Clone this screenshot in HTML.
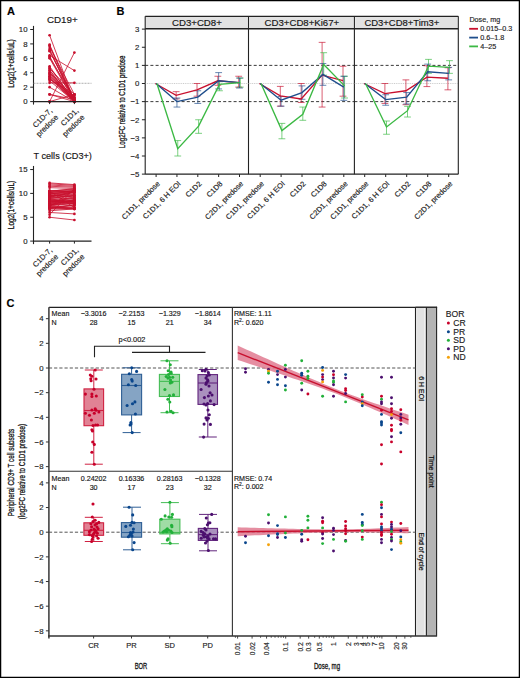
<!DOCTYPE html>
<html><head><meta charset="utf-8"><style>
html,body{margin:0;padding:0;background:#fff;}
#f{position:relative;width:520px;height:678px;overflow:hidden;background:#fff;}
svg{position:absolute;left:0;top:0;}
svg text{font-family:"Liberation Sans", sans-serif;stroke:#222;stroke-width:0.15px;}
.cn{stroke:#111;stroke-width:0.3px;}
.cs{stroke:#111;stroke-width:0.2px;}
</style></head><body><div id="f">
<svg width="520" height="678" viewBox="0 0 520 678" font-family="Liberation Sans, sans-serif">
<rect x="0" y="0" width="520" height="678" fill="#fff"/>
<text x="7.10" y="14.80" font-size="11" text-anchor="start" fill="#000" font-weight="bold" >A</text>
<text x="116.60" y="14.60" font-size="11" text-anchor="start" fill="#000" font-weight="bold" >B</text>
<text x="6.60" y="306.60" font-size="11" text-anchor="start" fill="#000" font-weight="bold" >C</text>
<text x="62.30" y="23.00" font-size="9.4" text-anchor="middle" fill="#111" font-weight="normal"  textLength="30.8" lengthAdjust="spacingAndGlyphs">CD19+</text>
<line x1="33.50" y1="25.90" x2="33.50" y2="104.60" stroke="#222" stroke-width="1.1" />
<line x1="30.20" y1="101.60" x2="33.50" y2="101.60" stroke="#222" stroke-width="1" />
<text x="27.50" y="104.35" font-size="7.8" text-anchor="end" fill="#1a1a1a" font-weight="normal" >0</text>
<line x1="30.20" y1="87.18" x2="33.50" y2="87.18" stroke="#222" stroke-width="1" />
<text x="27.50" y="89.93" font-size="7.8" text-anchor="end" fill="#1a1a1a" font-weight="normal" >2</text>
<line x1="30.20" y1="72.76" x2="33.50" y2="72.76" stroke="#222" stroke-width="1" />
<text x="27.50" y="75.51" font-size="7.8" text-anchor="end" fill="#1a1a1a" font-weight="normal" >4</text>
<line x1="30.20" y1="58.34" x2="33.50" y2="58.34" stroke="#222" stroke-width="1" />
<text x="27.50" y="61.09" font-size="7.8" text-anchor="end" fill="#1a1a1a" font-weight="normal" >6</text>
<line x1="30.20" y1="43.92" x2="33.50" y2="43.92" stroke="#222" stroke-width="1" />
<text x="27.50" y="46.67" font-size="7.8" text-anchor="end" fill="#1a1a1a" font-weight="normal" >8</text>
<line x1="30.20" y1="29.50" x2="33.50" y2="29.50" stroke="#222" stroke-width="1" />
<text x="27.50" y="32.25" font-size="7.8" text-anchor="end" fill="#1a1a1a" font-weight="normal" >10</text>
<line x1="33.50" y1="83.29" x2="91.50" y2="83.29" stroke="#9a9a9a" stroke-width="0.8" stroke-dasharray="2,1"/>
<line x1="49.60" y1="35.27" x2="74.40" y2="101.60" stroke="#c8102e" stroke-width="0.9" stroke-opacity="0.9"/>
<line x1="49.60" y1="44.64" x2="74.40" y2="100.16" stroke="#c8102e" stroke-width="0.9" stroke-opacity="0.9"/>
<line x1="49.60" y1="45.36" x2="74.40" y2="101.60" stroke="#c8102e" stroke-width="0.9" stroke-opacity="0.9"/>
<line x1="49.60" y1="46.80" x2="74.40" y2="94.39" stroke="#c8102e" stroke-width="0.9" stroke-opacity="0.9"/>
<line x1="49.60" y1="48.97" x2="74.40" y2="100.88" stroke="#c8102e" stroke-width="0.9" stroke-opacity="0.9"/>
<line x1="49.60" y1="50.41" x2="74.40" y2="101.60" stroke="#c8102e" stroke-width="0.9" stroke-opacity="0.9"/>
<line x1="49.60" y1="51.13" x2="74.40" y2="99.44" stroke="#c8102e" stroke-width="0.9" stroke-opacity="0.9"/>
<line x1="49.60" y1="55.46" x2="74.40" y2="70.60" stroke="#c8102e" stroke-width="0.9" stroke-opacity="0.9"/>
<line x1="49.60" y1="56.18" x2="74.40" y2="101.60" stroke="#c8102e" stroke-width="0.9" stroke-opacity="0.9"/>
<line x1="49.60" y1="57.62" x2="74.40" y2="97.99" stroke="#c8102e" stroke-width="0.9" stroke-opacity="0.9"/>
<line x1="49.60" y1="58.34" x2="74.40" y2="101.60" stroke="#c8102e" stroke-width="0.9" stroke-opacity="0.9"/>
<line x1="49.60" y1="66.27" x2="74.40" y2="101.60" stroke="#c8102e" stroke-width="0.9" stroke-opacity="0.9"/>
<line x1="49.60" y1="67.71" x2="74.40" y2="100.16" stroke="#c8102e" stroke-width="0.9" stroke-opacity="0.9"/>
<line x1="49.60" y1="68.43" x2="74.40" y2="94.39" stroke="#c8102e" stroke-width="0.9" stroke-opacity="0.9"/>
<line x1="49.60" y1="69.88" x2="74.40" y2="101.60" stroke="#c8102e" stroke-width="0.9" stroke-opacity="0.9"/>
<line x1="49.60" y1="70.60" x2="74.40" y2="100.88" stroke="#c8102e" stroke-width="0.9" stroke-opacity="0.9"/>
<line x1="49.60" y1="72.04" x2="74.40" y2="101.60" stroke="#c8102e" stroke-width="0.9" stroke-opacity="0.9"/>
<line x1="49.60" y1="72.76" x2="74.40" y2="97.27" stroke="#c8102e" stroke-width="0.9" stroke-opacity="0.9"/>
<line x1="49.60" y1="73.48" x2="74.40" y2="101.60" stroke="#c8102e" stroke-width="0.9" stroke-opacity="0.9"/>
<line x1="49.60" y1="74.20" x2="74.40" y2="100.16" stroke="#c8102e" stroke-width="0.9" stroke-opacity="0.9"/>
<line x1="49.60" y1="75.64" x2="74.40" y2="101.60" stroke="#c8102e" stroke-width="0.9" stroke-opacity="0.9"/>
<line x1="49.60" y1="76.36" x2="74.40" y2="98.72" stroke="#c8102e" stroke-width="0.9" stroke-opacity="0.9"/>
<line x1="49.60" y1="77.09" x2="74.40" y2="101.60" stroke="#c8102e" stroke-width="0.9" stroke-opacity="0.9"/>
<line x1="49.60" y1="77.81" x2="74.40" y2="100.88" stroke="#c8102e" stroke-width="0.9" stroke-opacity="0.9"/>
<line x1="49.60" y1="78.53" x2="74.40" y2="101.60" stroke="#c8102e" stroke-width="0.9" stroke-opacity="0.9"/>
<line x1="49.60" y1="79.25" x2="74.40" y2="95.83" stroke="#c8102e" stroke-width="0.9" stroke-opacity="0.9"/>
<line x1="49.60" y1="80.69" x2="74.40" y2="101.60" stroke="#c8102e" stroke-width="0.9" stroke-opacity="0.9"/>
<line x1="49.60" y1="82.85" x2="74.40" y2="82.85" stroke="#c8102e" stroke-width="0.9" stroke-opacity="0.9"/>
<line x1="49.60" y1="87.18" x2="74.40" y2="101.60" stroke="#c8102e" stroke-width="0.9" stroke-opacity="0.9"/>
<line x1="49.60" y1="94.39" x2="74.40" y2="101.60" stroke="#c8102e" stroke-width="0.9" stroke-opacity="0.9"/>
<line x1="49.60" y1="94.39" x2="74.40" y2="99.44" stroke="#c8102e" stroke-width="0.9" stroke-opacity="0.9"/>
<line x1="49.60" y1="101.60" x2="74.40" y2="52.57" stroke="#c8102e" stroke-width="0.9" stroke-opacity="0.9"/>
<line x1="49.60" y1="101.60" x2="74.40" y2="101.60" stroke="#c8102e" stroke-width="0.9" stroke-opacity="0.9"/>
<line x1="49.60" y1="101.60" x2="74.40" y2="94.39" stroke="#c8102e" stroke-width="0.9" stroke-opacity="0.9"/>
<circle cx="49.60" cy="35.27" r="1.35" fill="#c8102e"/>
<circle cx="74.40" cy="101.60" r="1.35" fill="#c8102e"/>
<circle cx="49.60" cy="44.64" r="1.35" fill="#c8102e"/>
<circle cx="74.40" cy="100.16" r="1.35" fill="#c8102e"/>
<circle cx="49.60" cy="45.36" r="1.35" fill="#c8102e"/>
<circle cx="74.40" cy="101.60" r="1.35" fill="#c8102e"/>
<circle cx="49.60" cy="46.80" r="1.35" fill="#c8102e"/>
<circle cx="74.40" cy="94.39" r="1.35" fill="#c8102e"/>
<circle cx="49.60" cy="48.97" r="1.35" fill="#c8102e"/>
<circle cx="74.40" cy="100.88" r="1.35" fill="#c8102e"/>
<circle cx="49.60" cy="50.41" r="1.35" fill="#c8102e"/>
<circle cx="74.40" cy="101.60" r="1.35" fill="#c8102e"/>
<circle cx="49.60" cy="51.13" r="1.35" fill="#c8102e"/>
<circle cx="74.40" cy="99.44" r="1.35" fill="#c8102e"/>
<circle cx="49.60" cy="55.46" r="1.35" fill="#c8102e"/>
<circle cx="74.40" cy="70.60" r="1.35" fill="#c8102e"/>
<circle cx="49.60" cy="56.18" r="1.35" fill="#c8102e"/>
<circle cx="74.40" cy="101.60" r="1.35" fill="#c8102e"/>
<circle cx="49.60" cy="57.62" r="1.35" fill="#c8102e"/>
<circle cx="74.40" cy="97.99" r="1.35" fill="#c8102e"/>
<circle cx="49.60" cy="58.34" r="1.35" fill="#c8102e"/>
<circle cx="74.40" cy="101.60" r="1.35" fill="#c8102e"/>
<circle cx="49.60" cy="66.27" r="1.35" fill="#c8102e"/>
<circle cx="74.40" cy="101.60" r="1.35" fill="#c8102e"/>
<circle cx="49.60" cy="67.71" r="1.35" fill="#c8102e"/>
<circle cx="74.40" cy="100.16" r="1.35" fill="#c8102e"/>
<circle cx="49.60" cy="68.43" r="1.35" fill="#c8102e"/>
<circle cx="74.40" cy="94.39" r="1.35" fill="#c8102e"/>
<circle cx="49.60" cy="69.88" r="1.35" fill="#c8102e"/>
<circle cx="74.40" cy="101.60" r="1.35" fill="#c8102e"/>
<circle cx="49.60" cy="70.60" r="1.35" fill="#c8102e"/>
<circle cx="74.40" cy="100.88" r="1.35" fill="#c8102e"/>
<circle cx="49.60" cy="72.04" r="1.35" fill="#c8102e"/>
<circle cx="74.40" cy="101.60" r="1.35" fill="#c8102e"/>
<circle cx="49.60" cy="72.76" r="1.35" fill="#c8102e"/>
<circle cx="74.40" cy="97.27" r="1.35" fill="#c8102e"/>
<circle cx="49.60" cy="73.48" r="1.35" fill="#c8102e"/>
<circle cx="74.40" cy="101.60" r="1.35" fill="#c8102e"/>
<circle cx="49.60" cy="74.20" r="1.35" fill="#c8102e"/>
<circle cx="74.40" cy="100.16" r="1.35" fill="#c8102e"/>
<circle cx="49.60" cy="75.64" r="1.35" fill="#c8102e"/>
<circle cx="74.40" cy="101.60" r="1.35" fill="#c8102e"/>
<circle cx="49.60" cy="76.36" r="1.35" fill="#c8102e"/>
<circle cx="74.40" cy="98.72" r="1.35" fill="#c8102e"/>
<circle cx="49.60" cy="77.09" r="1.35" fill="#c8102e"/>
<circle cx="74.40" cy="101.60" r="1.35" fill="#c8102e"/>
<circle cx="49.60" cy="77.81" r="1.35" fill="#c8102e"/>
<circle cx="74.40" cy="100.88" r="1.35" fill="#c8102e"/>
<circle cx="49.60" cy="78.53" r="1.35" fill="#c8102e"/>
<circle cx="74.40" cy="101.60" r="1.35" fill="#c8102e"/>
<circle cx="49.60" cy="79.25" r="1.35" fill="#c8102e"/>
<circle cx="74.40" cy="95.83" r="1.35" fill="#c8102e"/>
<circle cx="49.60" cy="80.69" r="1.35" fill="#c8102e"/>
<circle cx="74.40" cy="101.60" r="1.35" fill="#c8102e"/>
<circle cx="49.60" cy="82.85" r="1.35" fill="#c8102e"/>
<circle cx="74.40" cy="82.85" r="1.35" fill="#c8102e"/>
<circle cx="49.60" cy="87.18" r="1.35" fill="#c8102e"/>
<circle cx="74.40" cy="101.60" r="1.35" fill="#c8102e"/>
<circle cx="49.60" cy="94.39" r="1.35" fill="#c8102e"/>
<circle cx="74.40" cy="101.60" r="1.35" fill="#c8102e"/>
<circle cx="49.60" cy="94.39" r="1.35" fill="#c8102e"/>
<circle cx="74.40" cy="99.44" r="1.35" fill="#c8102e"/>
<circle cx="49.60" cy="101.60" r="1.35" fill="#c8102e"/>
<circle cx="74.40" cy="52.57" r="1.35" fill="#c8102e"/>
<circle cx="49.60" cy="101.60" r="1.35" fill="#c8102e"/>
<circle cx="74.40" cy="101.60" r="1.35" fill="#c8102e"/>
<circle cx="49.60" cy="101.60" r="1.35" fill="#c8102e"/>
<circle cx="74.40" cy="94.39" r="1.35" fill="#c8102e"/>
<line x1="33.50" y1="101.60" x2="91.50" y2="101.60" stroke="#222" stroke-width="1.4" />
<line x1="49.60" y1="101.60" x2="49.60" y2="104.10" stroke="#222" stroke-width="1" />
<line x1="74.40" y1="101.60" x2="74.40" y2="104.10" stroke="#222" stroke-width="1" />
<g transform="translate(52.70,111.20) rotate(-45)">
<text x="0" y="0" font-size="7.6" text-anchor="end" fill="#222">C1D-7,</text>
<text x="-0.4" y="8.9" font-size="7.6" text-anchor="end" fill="#222">predose</text>
</g>
<g transform="translate(78.90,111.20) rotate(-45)">
<text x="0" y="0" font-size="7.6" text-anchor="end" fill="#222">C1D1,</text>
<text x="-0.4" y="8.9" font-size="7.6" text-anchor="end" fill="#222">predose</text>
</g>
<text x="62.70" y="158.80" font-size="9.4" text-anchor="middle" fill="#111" font-weight="normal"  textLength="58.4" lengthAdjust="spacingAndGlyphs">T cells (CD3+)</text>
<line x1="33.50" y1="165.95" x2="33.50" y2="244.10" stroke="#222" stroke-width="1.1" />
<line x1="30.20" y1="241.10" x2="33.50" y2="241.10" stroke="#222" stroke-width="1" />
<text x="27.50" y="243.85" font-size="7.8" text-anchor="end" fill="#1a1a1a" font-weight="normal" >0</text>
<line x1="30.20" y1="217.25" x2="33.50" y2="217.25" stroke="#222" stroke-width="1" />
<text x="27.50" y="220.00" font-size="7.8" text-anchor="end" fill="#1a1a1a" font-weight="normal" >5</text>
<line x1="30.20" y1="193.40" x2="33.50" y2="193.40" stroke="#222" stroke-width="1" />
<text x="27.50" y="196.15" font-size="7.8" text-anchor="end" fill="#1a1a1a" font-weight="normal" >10</text>
<line x1="30.20" y1="169.55" x2="33.50" y2="169.55" stroke="#222" stroke-width="1" />
<text x="27.50" y="172.30" font-size="7.8" text-anchor="end" fill="#1a1a1a" font-weight="normal" >15</text>
<line x1="49.60" y1="182.91" x2="74.40" y2="184.58" stroke="#c8102e" stroke-width="0.9" stroke-opacity="0.9"/>
<line x1="49.60" y1="183.86" x2="74.40" y2="185.29" stroke="#c8102e" stroke-width="0.9" stroke-opacity="0.9"/>
<line x1="49.60" y1="185.05" x2="74.40" y2="186.25" stroke="#c8102e" stroke-width="0.9" stroke-opacity="0.9"/>
<line x1="49.60" y1="186.25" x2="74.40" y2="187.20" stroke="#c8102e" stroke-width="0.9" stroke-opacity="0.9"/>
<line x1="49.60" y1="187.68" x2="74.40" y2="188.39" stroke="#c8102e" stroke-width="0.9" stroke-opacity="0.9"/>
<line x1="49.60" y1="190.54" x2="74.40" y2="189.99" stroke="#c8102e" stroke-width="0.9" stroke-opacity="0.9"/>
<line x1="49.60" y1="190.93" x2="74.40" y2="189.47" stroke="#c8102e" stroke-width="0.9" stroke-opacity="0.9"/>
<line x1="49.60" y1="191.33" x2="74.40" y2="188.63" stroke="#c8102e" stroke-width="0.9" stroke-opacity="0.9"/>
<line x1="49.60" y1="191.73" x2="74.40" y2="191.07" stroke="#c8102e" stroke-width="0.9" stroke-opacity="0.9"/>
<line x1="49.60" y1="192.12" x2="74.40" y2="191.10" stroke="#c8102e" stroke-width="0.9" stroke-opacity="0.9"/>
<line x1="49.60" y1="192.52" x2="74.40" y2="190.81" stroke="#c8102e" stroke-width="0.9" stroke-opacity="0.9"/>
<line x1="49.60" y1="192.91" x2="74.40" y2="194.67" stroke="#c8102e" stroke-width="0.9" stroke-opacity="0.9"/>
<line x1="49.60" y1="193.31" x2="74.40" y2="192.25" stroke="#c8102e" stroke-width="0.9" stroke-opacity="0.9"/>
<line x1="49.60" y1="193.70" x2="74.40" y2="191.64" stroke="#c8102e" stroke-width="0.9" stroke-opacity="0.9"/>
<line x1="49.60" y1="194.10" x2="74.40" y2="190.63" stroke="#c8102e" stroke-width="0.9" stroke-opacity="0.9"/>
<line x1="49.60" y1="194.50" x2="74.40" y2="197.03" stroke="#c8102e" stroke-width="0.9" stroke-opacity="0.9"/>
<line x1="49.60" y1="194.89" x2="74.40" y2="195.63" stroke="#c8102e" stroke-width="0.9" stroke-opacity="0.9"/>
<line x1="49.60" y1="195.29" x2="74.40" y2="197.85" stroke="#c8102e" stroke-width="0.9" stroke-opacity="0.9"/>
<line x1="49.60" y1="195.68" x2="74.40" y2="192.07" stroke="#c8102e" stroke-width="0.9" stroke-opacity="0.9"/>
<line x1="49.60" y1="196.08" x2="74.40" y2="193.46" stroke="#c8102e" stroke-width="0.9" stroke-opacity="0.9"/>
<line x1="49.60" y1="196.48" x2="74.40" y2="199.45" stroke="#c8102e" stroke-width="0.9" stroke-opacity="0.9"/>
<line x1="49.60" y1="196.87" x2="74.40" y2="191.78" stroke="#c8102e" stroke-width="0.9" stroke-opacity="0.9"/>
<line x1="49.60" y1="197.27" x2="74.40" y2="192.32" stroke="#c8102e" stroke-width="0.9" stroke-opacity="0.9"/>
<line x1="49.60" y1="197.66" x2="74.40" y2="195.39" stroke="#c8102e" stroke-width="0.9" stroke-opacity="0.9"/>
<line x1="49.60" y1="198.06" x2="74.40" y2="196.11" stroke="#c8102e" stroke-width="0.9" stroke-opacity="0.9"/>
<line x1="49.60" y1="198.45" x2="74.40" y2="200.44" stroke="#c8102e" stroke-width="0.9" stroke-opacity="0.9"/>
<line x1="49.60" y1="198.85" x2="74.40" y2="202.06" stroke="#c8102e" stroke-width="0.9" stroke-opacity="0.9"/>
<line x1="49.60" y1="199.25" x2="74.40" y2="198.05" stroke="#c8102e" stroke-width="0.9" stroke-opacity="0.9"/>
<line x1="49.60" y1="199.64" x2="74.40" y2="202.47" stroke="#c8102e" stroke-width="0.9" stroke-opacity="0.9"/>
<line x1="49.60" y1="200.04" x2="74.40" y2="201.74" stroke="#c8102e" stroke-width="0.9" stroke-opacity="0.9"/>
<line x1="49.60" y1="200.43" x2="74.40" y2="201.69" stroke="#c8102e" stroke-width="0.9" stroke-opacity="0.9"/>
<line x1="49.60" y1="200.83" x2="74.40" y2="203.91" stroke="#c8102e" stroke-width="0.9" stroke-opacity="0.9"/>
<line x1="49.60" y1="201.22" x2="74.40" y2="200.58" stroke="#c8102e" stroke-width="0.9" stroke-opacity="0.9"/>
<line x1="49.60" y1="201.62" x2="74.40" y2="201.18" stroke="#c8102e" stroke-width="0.9" stroke-opacity="0.9"/>
<line x1="49.60" y1="202.02" x2="74.40" y2="198.12" stroke="#c8102e" stroke-width="0.9" stroke-opacity="0.9"/>
<line x1="49.60" y1="202.41" x2="74.40" y2="201.29" stroke="#c8102e" stroke-width="0.9" stroke-opacity="0.9"/>
<line x1="49.60" y1="202.81" x2="74.40" y2="200.65" stroke="#c8102e" stroke-width="0.9" stroke-opacity="0.9"/>
<line x1="49.60" y1="203.20" x2="74.40" y2="202.25" stroke="#c8102e" stroke-width="0.9" stroke-opacity="0.9"/>
<line x1="49.60" y1="203.60" x2="74.40" y2="201.25" stroke="#c8102e" stroke-width="0.9" stroke-opacity="0.9"/>
<line x1="49.60" y1="204.00" x2="74.40" y2="203.41" stroke="#c8102e" stroke-width="0.9" stroke-opacity="0.9"/>
<line x1="49.60" y1="204.39" x2="74.40" y2="205.34" stroke="#c8102e" stroke-width="0.9" stroke-opacity="0.9"/>
<line x1="49.60" y1="204.79" x2="74.40" y2="199.56" stroke="#c8102e" stroke-width="0.9" stroke-opacity="0.9"/>
<line x1="49.60" y1="205.18" x2="74.40" y2="199.97" stroke="#c8102e" stroke-width="0.9" stroke-opacity="0.9"/>
<line x1="49.60" y1="205.58" x2="74.40" y2="201.70" stroke="#c8102e" stroke-width="0.9" stroke-opacity="0.9"/>
<line x1="49.60" y1="205.97" x2="74.40" y2="203.24" stroke="#c8102e" stroke-width="0.9" stroke-opacity="0.9"/>
<line x1="49.60" y1="206.37" x2="74.40" y2="207.00" stroke="#c8102e" stroke-width="0.9" stroke-opacity="0.9"/>
<line x1="49.60" y1="206.77" x2="74.40" y2="208.13" stroke="#c8102e" stroke-width="0.9" stroke-opacity="0.9"/>
<line x1="49.60" y1="207.16" x2="74.40" y2="208.02" stroke="#c8102e" stroke-width="0.9" stroke-opacity="0.9"/>
<line x1="49.60" y1="207.56" x2="74.40" y2="208.90" stroke="#c8102e" stroke-width="0.9" stroke-opacity="0.9"/>
<line x1="49.60" y1="207.95" x2="74.40" y2="204.71" stroke="#c8102e" stroke-width="0.9" stroke-opacity="0.9"/>
<line x1="49.60" y1="208.35" x2="74.40" y2="208.25" stroke="#c8102e" stroke-width="0.9" stroke-opacity="0.9"/>
<line x1="49.60" y1="208.75" x2="74.40" y2="204.82" stroke="#c8102e" stroke-width="0.9" stroke-opacity="0.9"/>
<line x1="49.60" y1="209.14" x2="74.40" y2="208.90" stroke="#c8102e" stroke-width="0.9" stroke-opacity="0.9"/>
<line x1="49.60" y1="210.81" x2="74.40" y2="208.90" stroke="#c8102e" stroke-width="0.9" stroke-opacity="0.9"/>
<line x1="49.60" y1="212.48" x2="74.40" y2="213.91" stroke="#c8102e" stroke-width="0.9" stroke-opacity="0.9"/>
<line x1="49.60" y1="214.63" x2="74.40" y2="188.63" stroke="#c8102e" stroke-width="0.9" stroke-opacity="0.9"/>
<line x1="49.60" y1="217.25" x2="74.40" y2="220.02" stroke="#c8102e" stroke-width="0.9" stroke-opacity="0.9"/>
<line x1="49.60" y1="191.01" x2="74.40" y2="207.71" stroke="#c8102e" stroke-width="0.9" stroke-opacity="0.9"/>
<line x1="49.60" y1="206.76" x2="74.40" y2="189.58" stroke="#c8102e" stroke-width="0.9" stroke-opacity="0.9"/>
<circle cx="49.60" cy="182.91" r="1.35" fill="#c8102e"/>
<circle cx="74.40" cy="184.58" r="1.35" fill="#c8102e"/>
<circle cx="49.60" cy="183.86" r="1.35" fill="#c8102e"/>
<circle cx="74.40" cy="185.29" r="1.35" fill="#c8102e"/>
<circle cx="49.60" cy="185.05" r="1.35" fill="#c8102e"/>
<circle cx="74.40" cy="186.25" r="1.35" fill="#c8102e"/>
<circle cx="49.60" cy="186.25" r="1.35" fill="#c8102e"/>
<circle cx="74.40" cy="187.20" r="1.35" fill="#c8102e"/>
<circle cx="49.60" cy="187.68" r="1.35" fill="#c8102e"/>
<circle cx="74.40" cy="188.39" r="1.35" fill="#c8102e"/>
<circle cx="49.60" cy="190.54" r="1.35" fill="#c8102e"/>
<circle cx="74.40" cy="189.99" r="1.35" fill="#c8102e"/>
<circle cx="49.60" cy="190.93" r="1.35" fill="#c8102e"/>
<circle cx="74.40" cy="189.47" r="1.35" fill="#c8102e"/>
<circle cx="49.60" cy="191.33" r="1.35" fill="#c8102e"/>
<circle cx="74.40" cy="188.63" r="1.35" fill="#c8102e"/>
<circle cx="49.60" cy="191.73" r="1.35" fill="#c8102e"/>
<circle cx="74.40" cy="191.07" r="1.35" fill="#c8102e"/>
<circle cx="49.60" cy="192.12" r="1.35" fill="#c8102e"/>
<circle cx="74.40" cy="191.10" r="1.35" fill="#c8102e"/>
<circle cx="49.60" cy="192.52" r="1.35" fill="#c8102e"/>
<circle cx="74.40" cy="190.81" r="1.35" fill="#c8102e"/>
<circle cx="49.60" cy="192.91" r="1.35" fill="#c8102e"/>
<circle cx="74.40" cy="194.67" r="1.35" fill="#c8102e"/>
<circle cx="49.60" cy="193.31" r="1.35" fill="#c8102e"/>
<circle cx="74.40" cy="192.25" r="1.35" fill="#c8102e"/>
<circle cx="49.60" cy="193.70" r="1.35" fill="#c8102e"/>
<circle cx="74.40" cy="191.64" r="1.35" fill="#c8102e"/>
<circle cx="49.60" cy="194.10" r="1.35" fill="#c8102e"/>
<circle cx="74.40" cy="190.63" r="1.35" fill="#c8102e"/>
<circle cx="49.60" cy="194.50" r="1.35" fill="#c8102e"/>
<circle cx="74.40" cy="197.03" r="1.35" fill="#c8102e"/>
<circle cx="49.60" cy="194.89" r="1.35" fill="#c8102e"/>
<circle cx="74.40" cy="195.63" r="1.35" fill="#c8102e"/>
<circle cx="49.60" cy="195.29" r="1.35" fill="#c8102e"/>
<circle cx="74.40" cy="197.85" r="1.35" fill="#c8102e"/>
<circle cx="49.60" cy="195.68" r="1.35" fill="#c8102e"/>
<circle cx="74.40" cy="192.07" r="1.35" fill="#c8102e"/>
<circle cx="49.60" cy="196.08" r="1.35" fill="#c8102e"/>
<circle cx="74.40" cy="193.46" r="1.35" fill="#c8102e"/>
<circle cx="49.60" cy="196.48" r="1.35" fill="#c8102e"/>
<circle cx="74.40" cy="199.45" r="1.35" fill="#c8102e"/>
<circle cx="49.60" cy="196.87" r="1.35" fill="#c8102e"/>
<circle cx="74.40" cy="191.78" r="1.35" fill="#c8102e"/>
<circle cx="49.60" cy="197.27" r="1.35" fill="#c8102e"/>
<circle cx="74.40" cy="192.32" r="1.35" fill="#c8102e"/>
<circle cx="49.60" cy="197.66" r="1.35" fill="#c8102e"/>
<circle cx="74.40" cy="195.39" r="1.35" fill="#c8102e"/>
<circle cx="49.60" cy="198.06" r="1.35" fill="#c8102e"/>
<circle cx="74.40" cy="196.11" r="1.35" fill="#c8102e"/>
<circle cx="49.60" cy="198.45" r="1.35" fill="#c8102e"/>
<circle cx="74.40" cy="200.44" r="1.35" fill="#c8102e"/>
<circle cx="49.60" cy="198.85" r="1.35" fill="#c8102e"/>
<circle cx="74.40" cy="202.06" r="1.35" fill="#c8102e"/>
<circle cx="49.60" cy="199.25" r="1.35" fill="#c8102e"/>
<circle cx="74.40" cy="198.05" r="1.35" fill="#c8102e"/>
<circle cx="49.60" cy="199.64" r="1.35" fill="#c8102e"/>
<circle cx="74.40" cy="202.47" r="1.35" fill="#c8102e"/>
<circle cx="49.60" cy="200.04" r="1.35" fill="#c8102e"/>
<circle cx="74.40" cy="201.74" r="1.35" fill="#c8102e"/>
<circle cx="49.60" cy="200.43" r="1.35" fill="#c8102e"/>
<circle cx="74.40" cy="201.69" r="1.35" fill="#c8102e"/>
<circle cx="49.60" cy="200.83" r="1.35" fill="#c8102e"/>
<circle cx="74.40" cy="203.91" r="1.35" fill="#c8102e"/>
<circle cx="49.60" cy="201.22" r="1.35" fill="#c8102e"/>
<circle cx="74.40" cy="200.58" r="1.35" fill="#c8102e"/>
<circle cx="49.60" cy="201.62" r="1.35" fill="#c8102e"/>
<circle cx="74.40" cy="201.18" r="1.35" fill="#c8102e"/>
<circle cx="49.60" cy="202.02" r="1.35" fill="#c8102e"/>
<circle cx="74.40" cy="198.12" r="1.35" fill="#c8102e"/>
<circle cx="49.60" cy="202.41" r="1.35" fill="#c8102e"/>
<circle cx="74.40" cy="201.29" r="1.35" fill="#c8102e"/>
<circle cx="49.60" cy="202.81" r="1.35" fill="#c8102e"/>
<circle cx="74.40" cy="200.65" r="1.35" fill="#c8102e"/>
<circle cx="49.60" cy="203.20" r="1.35" fill="#c8102e"/>
<circle cx="74.40" cy="202.25" r="1.35" fill="#c8102e"/>
<circle cx="49.60" cy="203.60" r="1.35" fill="#c8102e"/>
<circle cx="74.40" cy="201.25" r="1.35" fill="#c8102e"/>
<circle cx="49.60" cy="204.00" r="1.35" fill="#c8102e"/>
<circle cx="74.40" cy="203.41" r="1.35" fill="#c8102e"/>
<circle cx="49.60" cy="204.39" r="1.35" fill="#c8102e"/>
<circle cx="74.40" cy="205.34" r="1.35" fill="#c8102e"/>
<circle cx="49.60" cy="204.79" r="1.35" fill="#c8102e"/>
<circle cx="74.40" cy="199.56" r="1.35" fill="#c8102e"/>
<circle cx="49.60" cy="205.18" r="1.35" fill="#c8102e"/>
<circle cx="74.40" cy="199.97" r="1.35" fill="#c8102e"/>
<circle cx="49.60" cy="205.58" r="1.35" fill="#c8102e"/>
<circle cx="74.40" cy="201.70" r="1.35" fill="#c8102e"/>
<circle cx="49.60" cy="205.97" r="1.35" fill="#c8102e"/>
<circle cx="74.40" cy="203.24" r="1.35" fill="#c8102e"/>
<circle cx="49.60" cy="206.37" r="1.35" fill="#c8102e"/>
<circle cx="74.40" cy="207.00" r="1.35" fill="#c8102e"/>
<circle cx="49.60" cy="206.77" r="1.35" fill="#c8102e"/>
<circle cx="74.40" cy="208.13" r="1.35" fill="#c8102e"/>
<circle cx="49.60" cy="207.16" r="1.35" fill="#c8102e"/>
<circle cx="74.40" cy="208.02" r="1.35" fill="#c8102e"/>
<circle cx="49.60" cy="207.56" r="1.35" fill="#c8102e"/>
<circle cx="74.40" cy="208.90" r="1.35" fill="#c8102e"/>
<circle cx="49.60" cy="207.95" r="1.35" fill="#c8102e"/>
<circle cx="74.40" cy="204.71" r="1.35" fill="#c8102e"/>
<circle cx="49.60" cy="208.35" r="1.35" fill="#c8102e"/>
<circle cx="74.40" cy="208.25" r="1.35" fill="#c8102e"/>
<circle cx="49.60" cy="208.75" r="1.35" fill="#c8102e"/>
<circle cx="74.40" cy="204.82" r="1.35" fill="#c8102e"/>
<circle cx="49.60" cy="209.14" r="1.35" fill="#c8102e"/>
<circle cx="74.40" cy="208.90" r="1.35" fill="#c8102e"/>
<circle cx="49.60" cy="210.81" r="1.35" fill="#c8102e"/>
<circle cx="74.40" cy="208.90" r="1.35" fill="#c8102e"/>
<circle cx="49.60" cy="212.48" r="1.35" fill="#c8102e"/>
<circle cx="74.40" cy="213.91" r="1.35" fill="#c8102e"/>
<circle cx="49.60" cy="214.63" r="1.35" fill="#c8102e"/>
<circle cx="74.40" cy="188.63" r="1.35" fill="#c8102e"/>
<circle cx="49.60" cy="217.25" r="1.35" fill="#c8102e"/>
<circle cx="74.40" cy="220.02" r="1.35" fill="#c8102e"/>
<circle cx="49.60" cy="191.01" r="1.35" fill="#c8102e"/>
<circle cx="74.40" cy="207.71" r="1.35" fill="#c8102e"/>
<circle cx="49.60" cy="206.76" r="1.35" fill="#c8102e"/>
<circle cx="74.40" cy="189.58" r="1.35" fill="#c8102e"/>
<line x1="33.50" y1="241.10" x2="91.50" y2="241.10" stroke="#222" stroke-width="1.4" />
<line x1="49.60" y1="241.10" x2="49.60" y2="243.60" stroke="#222" stroke-width="1" />
<line x1="74.40" y1="241.10" x2="74.40" y2="243.60" stroke="#222" stroke-width="1" />
<g transform="translate(52.70,250.70) rotate(-45)">
<text x="0" y="0" font-size="7.6" text-anchor="end" fill="#222">C1D-7,</text>
<text x="-0.4" y="8.9" font-size="7.6" text-anchor="end" fill="#222">predose</text>
</g>
<g transform="translate(78.90,250.70) rotate(-45)">
<text x="0" y="0" font-size="7.6" text-anchor="end" fill="#222">C1D1,</text>
<text x="-0.4" y="8.9" font-size="7.6" text-anchor="end" fill="#222">predose</text>
</g>
<text transform="translate(14.4,63.5) rotate(-90)" font-size="8.4" text-anchor="middle" fill="#222" textLength="48.4" lengthAdjust="spacingAndGlyphs" class="cn">Log2(1+cells/uL)</text>
<text transform="translate(14.4,205) rotate(-90)" font-size="8.4" text-anchor="middle" fill="#222" textLength="48.4" lengthAdjust="spacingAndGlyphs" class="cn">Log2(1+cells/uL)</text>
<rect x="145.70" y="16.30" width="102.30" height="12.20" fill="#e2e2e2" stroke="#fafafa" stroke-width="0.8" />
<text x="196.90" y="26.00" font-size="8.9" text-anchor="middle" fill="#111" font-weight="normal"  textLength="49.8" lengthAdjust="spacingAndGlyphs">CD3+CD8+</text>
<rect x="249.00" y="16.30" width="104.90" height="12.20" fill="#e2e2e2" stroke="#fafafa" stroke-width="0.8" />
<text x="301.90" y="26.00" font-size="8.9" text-anchor="middle" fill="#111" font-weight="normal"  textLength="74.6" lengthAdjust="spacingAndGlyphs">CD3+CD8+Ki67+</text>
<rect x="354.90" y="16.30" width="102.90" height="12.20" fill="#e2e2e2" stroke="#fafafa" stroke-width="0.8" />
<text x="401.90" y="26.00" font-size="8.9" text-anchor="middle" fill="#111" font-weight="normal"  textLength="75.0" lengthAdjust="spacingAndGlyphs">CD3+CD8+Tim3+</text>
<line x1="145.20" y1="16.30" x2="458.30" y2="16.30" stroke="#222" stroke-width="1.2" />
<line x1="145.20" y1="28.80" x2="458.30" y2="28.80" stroke="#222" stroke-width="1.5" />
<line x1="145.20" y1="16.30" x2="145.20" y2="174.20" stroke="#222" stroke-width="1.1" />
<line x1="248.50" y1="16.30" x2="248.50" y2="174.20" stroke="#222" stroke-width="1.1" />
<line x1="354.40" y1="16.30" x2="354.40" y2="174.20" stroke="#222" stroke-width="1.1" />
<line x1="458.30" y1="16.30" x2="458.30" y2="174.20" stroke="#222" stroke-width="1.1" />
<line x1="145.20" y1="174.20" x2="458.30" y2="174.20" stroke="#222" stroke-width="1.3" />
<line x1="145.20" y1="65.38" x2="248.50" y2="65.38" stroke="#222" stroke-width="0.9" stroke-dasharray="3,2.2"/>
<line x1="145.20" y1="101.62" x2="248.50" y2="101.62" stroke="#222" stroke-width="0.9" stroke-dasharray="3,2.2"/>
<line x1="145.20" y1="83.50" x2="248.50" y2="83.50" stroke="#aaa" stroke-width="0.6" stroke-dasharray="1,0.8"/>
<line x1="248.50" y1="65.38" x2="354.40" y2="65.38" stroke="#222" stroke-width="0.9" stroke-dasharray="3,2.2"/>
<line x1="248.50" y1="101.62" x2="354.40" y2="101.62" stroke="#222" stroke-width="0.9" stroke-dasharray="3,2.2"/>
<line x1="248.50" y1="83.50" x2="354.40" y2="83.50" stroke="#aaa" stroke-width="0.6" stroke-dasharray="1,0.8"/>
<line x1="354.40" y1="65.38" x2="458.30" y2="65.38" stroke="#222" stroke-width="0.9" stroke-dasharray="3,2.2"/>
<line x1="354.40" y1="101.62" x2="458.30" y2="101.62" stroke="#222" stroke-width="0.9" stroke-dasharray="3,2.2"/>
<line x1="354.40" y1="83.50" x2="458.30" y2="83.50" stroke="#aaa" stroke-width="0.6" stroke-dasharray="1,0.8"/>
<line x1="141.90" y1="29.12" x2="145.20" y2="29.12" stroke="#222" stroke-width="1" />
<text x="139.30" y="31.88" font-size="7.8" text-anchor="end" fill="#1a1a1a" font-weight="normal" >3</text>
<line x1="141.90" y1="47.25" x2="145.20" y2="47.25" stroke="#222" stroke-width="1" />
<text x="139.30" y="50.00" font-size="7.8" text-anchor="end" fill="#1a1a1a" font-weight="normal" >2</text>
<line x1="141.90" y1="65.38" x2="145.20" y2="65.38" stroke="#222" stroke-width="1" />
<text x="139.30" y="68.12" font-size="7.8" text-anchor="end" fill="#1a1a1a" font-weight="normal" >1</text>
<line x1="141.90" y1="83.50" x2="145.20" y2="83.50" stroke="#222" stroke-width="1" />
<text x="139.30" y="86.25" font-size="7.8" text-anchor="end" fill="#1a1a1a" font-weight="normal" >0</text>
<line x1="141.90" y1="101.62" x2="145.20" y2="101.62" stroke="#222" stroke-width="1" />
<text x="139.30" y="104.38" font-size="7.8" text-anchor="end" fill="#1a1a1a" font-weight="normal" >&#8722;1</text>
<line x1="141.90" y1="119.75" x2="145.20" y2="119.75" stroke="#222" stroke-width="1" />
<text x="139.30" y="122.50" font-size="7.8" text-anchor="end" fill="#1a1a1a" font-weight="normal" >&#8722;2</text>
<line x1="141.90" y1="137.88" x2="145.20" y2="137.88" stroke="#222" stroke-width="1" />
<text x="139.30" y="140.62" font-size="7.8" text-anchor="end" fill="#1a1a1a" font-weight="normal" >&#8722;3</text>
<line x1="141.90" y1="156.00" x2="145.20" y2="156.00" stroke="#222" stroke-width="1" />
<text x="139.30" y="158.75" font-size="7.8" text-anchor="end" fill="#1a1a1a" font-weight="normal" >&#8722;4</text>
<line x1="141.90" y1="174.12" x2="145.20" y2="174.12" stroke="#222" stroke-width="1" />
<text x="139.30" y="176.88" font-size="7.8" text-anchor="end" fill="#1a1a1a" font-weight="normal" >&#8722;5</text>
<text transform="translate(125.0,101.9) rotate(-90)" font-size="9.6" text-anchor="middle" fill="#111" textLength="92.6" lengthAdjust="spacingAndGlyphs" class="cn">Log2FC relative to C1D1 predose</text>
<line x1="156.10" y1="174.20" x2="156.10" y2="177.00" stroke="#222" stroke-width="1" />
<text transform="translate(160.40,184.20) rotate(-45)" font-size="7.5" text-anchor="end" fill="#222">C1D1, predose</text>
<line x1="176.95" y1="174.20" x2="176.95" y2="177.00" stroke="#222" stroke-width="1" />
<text transform="translate(181.25,184.20) rotate(-45)" font-size="7.5" text-anchor="end" fill="#222">C1D1, 6 H EOI</text>
<line x1="197.80" y1="174.20" x2="197.80" y2="177.00" stroke="#222" stroke-width="1" />
<text transform="translate(202.10,184.20) rotate(-45)" font-size="7.5" text-anchor="end" fill="#222">C1D2</text>
<line x1="218.65" y1="174.20" x2="218.65" y2="177.00" stroke="#222" stroke-width="1" />
<text transform="translate(222.95,184.20) rotate(-45)" font-size="7.5" text-anchor="end" fill="#222">C1D8</text>
<line x1="239.50" y1="174.20" x2="239.50" y2="177.00" stroke="#222" stroke-width="1" />
<text transform="translate(243.80,184.20) rotate(-45)" font-size="7.5" text-anchor="end" fill="#222">C2D1, predose</text>
<line x1="260.20" y1="174.20" x2="260.20" y2="177.00" stroke="#222" stroke-width="1" />
<text transform="translate(264.50,184.20) rotate(-45)" font-size="7.5" text-anchor="end" fill="#222">C1D1, predose</text>
<line x1="281.10" y1="174.20" x2="281.10" y2="177.00" stroke="#222" stroke-width="1" />
<text transform="translate(285.40,184.20) rotate(-45)" font-size="7.5" text-anchor="end" fill="#222">C1D1, 6 H EOI</text>
<line x1="302.00" y1="174.20" x2="302.00" y2="177.00" stroke="#222" stroke-width="1" />
<text transform="translate(306.30,184.20) rotate(-45)" font-size="7.5" text-anchor="end" fill="#222">C1D2</text>
<line x1="322.90" y1="174.20" x2="322.90" y2="177.00" stroke="#222" stroke-width="1" />
<text transform="translate(327.20,184.20) rotate(-45)" font-size="7.5" text-anchor="end" fill="#222">C1D8</text>
<line x1="343.80" y1="174.20" x2="343.80" y2="177.00" stroke="#222" stroke-width="1" />
<text transform="translate(348.10,184.20) rotate(-45)" font-size="7.5" text-anchor="end" fill="#222">C2D1, predose</text>
<line x1="364.70" y1="174.20" x2="364.70" y2="177.00" stroke="#222" stroke-width="1" />
<text transform="translate(369.00,184.20) rotate(-45)" font-size="7.5" text-anchor="end" fill="#222">C1D1, predose</text>
<line x1="385.70" y1="174.20" x2="385.70" y2="177.00" stroke="#222" stroke-width="1" />
<text transform="translate(390.00,184.20) rotate(-45)" font-size="7.5" text-anchor="end" fill="#222">C1D1, 6 H EOI</text>
<line x1="406.70" y1="174.20" x2="406.70" y2="177.00" stroke="#222" stroke-width="1" />
<text transform="translate(411.00,184.20) rotate(-45)" font-size="7.5" text-anchor="end" fill="#222">C1D2</text>
<line x1="427.70" y1="174.20" x2="427.70" y2="177.00" stroke="#222" stroke-width="1" />
<text transform="translate(432.00,184.20) rotate(-45)" font-size="7.5" text-anchor="end" fill="#222">C1D8</text>
<line x1="448.70" y1="174.20" x2="448.70" y2="177.00" stroke="#222" stroke-width="1" />
<text transform="translate(453.00,184.20) rotate(-45)" font-size="7.5" text-anchor="end" fill="#222">C2D1, predose</text>
<g stroke="#c8102e" stroke-width="0.9" stroke-opacity="0.75">
<line x1="176.15" y1="98.91" x2="176.15" y2="91.66" stroke="#c8102e" stroke-width="0.9" />
<line x1="172.75" y1="98.91" x2="179.55" y2="98.91" stroke="#c8102e" stroke-width="0.9" />
<line x1="172.75" y1="91.66" x2="179.55" y2="91.66" stroke="#c8102e" stroke-width="0.9" />
</g>
<g stroke="#c8102e" stroke-width="0.9" stroke-opacity="0.75">
<line x1="197.00" y1="96.19" x2="197.00" y2="83.50" stroke="#c8102e" stroke-width="0.9" />
<line x1="193.60" y1="96.19" x2="200.40" y2="96.19" stroke="#c8102e" stroke-width="0.9" />
<line x1="193.60" y1="83.50" x2="200.40" y2="83.50" stroke="#c8102e" stroke-width="0.9" />
</g>
<g stroke="#c8102e" stroke-width="0.9" stroke-opacity="0.75">
<line x1="217.85" y1="85.31" x2="217.85" y2="76.25" stroke="#c8102e" stroke-width="0.9" />
<line x1="214.45" y1="85.31" x2="221.25" y2="85.31" stroke="#c8102e" stroke-width="0.9" />
<line x1="214.45" y1="76.25" x2="221.25" y2="76.25" stroke="#c8102e" stroke-width="0.9" />
</g>
<g stroke="#c8102e" stroke-width="0.9" stroke-opacity="0.75">
<line x1="238.70" y1="87.12" x2="238.70" y2="76.25" stroke="#c8102e" stroke-width="0.9" />
<line x1="235.30" y1="87.12" x2="242.10" y2="87.12" stroke="#c8102e" stroke-width="0.9" />
<line x1="235.30" y1="76.25" x2="242.10" y2="76.25" stroke="#c8102e" stroke-width="0.9" />
</g>
<g stroke="#3cb944" stroke-width="0.9" stroke-opacity="0.75">
<line x1="177.75" y1="156.00" x2="177.75" y2="140.59" stroke="#3cb944" stroke-width="0.9" />
<line x1="174.35" y1="156.00" x2="181.15" y2="156.00" stroke="#3cb944" stroke-width="0.9" />
<line x1="174.35" y1="140.59" x2="181.15" y2="140.59" stroke="#3cb944" stroke-width="0.9" />
</g>
<g stroke="#3cb944" stroke-width="0.9" stroke-opacity="0.75">
<line x1="198.60" y1="133.34" x2="198.60" y2="119.75" stroke="#3cb944" stroke-width="0.9" />
<line x1="195.20" y1="133.34" x2="202.00" y2="133.34" stroke="#3cb944" stroke-width="0.9" />
<line x1="195.20" y1="119.75" x2="202.00" y2="119.75" stroke="#3cb944" stroke-width="0.9" />
</g>
<g stroke="#3cb944" stroke-width="0.9" stroke-opacity="0.75">
<line x1="219.45" y1="90.75" x2="219.45" y2="81.69" stroke="#3cb944" stroke-width="0.9" />
<line x1="216.05" y1="90.75" x2="222.85" y2="90.75" stroke="#3cb944" stroke-width="0.9" />
<line x1="216.05" y1="81.69" x2="222.85" y2="81.69" stroke="#3cb944" stroke-width="0.9" />
</g>
<g stroke="#3cb944" stroke-width="0.9" stroke-opacity="0.75">
<line x1="240.30" y1="87.12" x2="240.30" y2="78.06" stroke="#3cb944" stroke-width="0.9" />
<line x1="236.90" y1="87.12" x2="243.70" y2="87.12" stroke="#3cb944" stroke-width="0.9" />
<line x1="236.90" y1="78.06" x2="243.70" y2="78.06" stroke="#3cb944" stroke-width="0.9" />
</g>
<g stroke="#1f4e8c" stroke-width="0.9" stroke-opacity="0.75">
<line x1="176.95" y1="107.06" x2="176.95" y2="98.00" stroke="#1f4e8c" stroke-width="0.9" />
<line x1="173.55" y1="107.06" x2="180.35" y2="107.06" stroke="#1f4e8c" stroke-width="0.9" />
<line x1="173.55" y1="98.00" x2="180.35" y2="98.00" stroke="#1f4e8c" stroke-width="0.9" />
</g>
<g stroke="#1f4e8c" stroke-width="0.9" stroke-opacity="0.75">
<line x1="197.80" y1="103.44" x2="197.80" y2="90.75" stroke="#1f4e8c" stroke-width="0.9" />
<line x1="194.40" y1="103.44" x2="201.20" y2="103.44" stroke="#1f4e8c" stroke-width="0.9" />
<line x1="194.40" y1="90.75" x2="201.20" y2="90.75" stroke="#1f4e8c" stroke-width="0.9" />
</g>
<g stroke="#1f4e8c" stroke-width="0.9" stroke-opacity="0.75">
<line x1="218.65" y1="88.94" x2="218.65" y2="72.62" stroke="#1f4e8c" stroke-width="0.9" />
<line x1="215.25" y1="88.94" x2="222.05" y2="88.94" stroke="#1f4e8c" stroke-width="0.9" />
<line x1="215.25" y1="72.62" x2="222.05" y2="72.62" stroke="#1f4e8c" stroke-width="0.9" />
</g>
<g stroke="#1f4e8c" stroke-width="0.9" stroke-opacity="0.75">
<line x1="239.50" y1="88.03" x2="239.50" y2="78.06" stroke="#1f4e8c" stroke-width="0.9" />
<line x1="236.10" y1="88.03" x2="242.90" y2="88.03" stroke="#1f4e8c" stroke-width="0.9" />
<line x1="236.10" y1="78.06" x2="242.90" y2="78.06" stroke="#1f4e8c" stroke-width="0.9" />
</g>
<polyline points="155.30,83.50 176.15,95.28 197.00,89.84 217.85,80.78 238.70,82.59" fill="none" stroke="#c8102e" stroke-width="1.35"/>
<polyline points="156.10,83.50 176.95,101.62 197.80,97.09 218.65,80.78 239.50,82.59" fill="none" stroke="#1f4e8c" stroke-width="1.35"/>
<polyline points="156.90,83.50 177.75,148.75 198.60,126.09 219.45,84.41 240.30,82.59" fill="none" stroke="#3cb944" stroke-width="1.35"/>
<g stroke="#c8102e" stroke-width="0.9" stroke-opacity="0.75">
<line x1="280.30" y1="106.16" x2="280.30" y2="86.40" stroke="#c8102e" stroke-width="0.9" />
<line x1="276.90" y1="106.16" x2="283.70" y2="106.16" stroke="#c8102e" stroke-width="0.9" />
<line x1="276.90" y1="86.40" x2="283.70" y2="86.40" stroke="#c8102e" stroke-width="0.9" />
</g>
<g stroke="#c8102e" stroke-width="0.9" stroke-opacity="0.75">
<line x1="301.20" y1="102.53" x2="301.20" y2="83.50" stroke="#c8102e" stroke-width="0.9" />
<line x1="297.80" y1="102.53" x2="304.60" y2="102.53" stroke="#c8102e" stroke-width="0.9" />
<line x1="297.80" y1="83.50" x2="304.60" y2="83.50" stroke="#c8102e" stroke-width="0.9" />
</g>
<g stroke="#c8102e" stroke-width="0.9" stroke-opacity="0.75">
<line x1="322.10" y1="107.06" x2="322.10" y2="42.36" stroke="#c8102e" stroke-width="0.9" />
<line x1="318.70" y1="107.06" x2="325.50" y2="107.06" stroke="#c8102e" stroke-width="0.9" />
<line x1="318.70" y1="42.36" x2="325.50" y2="42.36" stroke="#c8102e" stroke-width="0.9" />
</g>
<g stroke="#c8102e" stroke-width="0.9" stroke-opacity="0.75">
<line x1="343.00" y1="96.19" x2="343.00" y2="66.28" stroke="#c8102e" stroke-width="0.9" />
<line x1="339.60" y1="96.19" x2="346.40" y2="96.19" stroke="#c8102e" stroke-width="0.9" />
<line x1="339.60" y1="66.28" x2="346.40" y2="66.28" stroke="#c8102e" stroke-width="0.9" />
</g>
<g stroke="#3cb944" stroke-width="0.9" stroke-opacity="0.75">
<line x1="281.90" y1="138.78" x2="281.90" y2="123.38" stroke="#3cb944" stroke-width="0.9" />
<line x1="278.50" y1="138.78" x2="285.30" y2="138.78" stroke="#3cb944" stroke-width="0.9" />
<line x1="278.50" y1="123.38" x2="285.30" y2="123.38" stroke="#3cb944" stroke-width="0.9" />
</g>
<g stroke="#3cb944" stroke-width="0.9" stroke-opacity="0.75">
<line x1="302.80" y1="120.29" x2="302.80" y2="107.06" stroke="#3cb944" stroke-width="0.9" />
<line x1="299.40" y1="120.29" x2="306.20" y2="120.29" stroke="#3cb944" stroke-width="0.9" />
<line x1="299.40" y1="107.06" x2="306.20" y2="107.06" stroke="#3cb944" stroke-width="0.9" />
</g>
<g stroke="#3cb944" stroke-width="0.9" stroke-opacity="0.75">
<line x1="323.70" y1="75.16" x2="323.70" y2="52.69" stroke="#3cb944" stroke-width="0.9" />
<line x1="320.30" y1="75.16" x2="327.10" y2="75.16" stroke="#3cb944" stroke-width="0.9" />
<line x1="320.30" y1="52.69" x2="327.10" y2="52.69" stroke="#3cb944" stroke-width="0.9" />
</g>
<g stroke="#3cb944" stroke-width="0.9" stroke-opacity="0.75">
<line x1="344.60" y1="98.00" x2="344.60" y2="76.25" stroke="#3cb944" stroke-width="0.9" />
<line x1="341.20" y1="98.00" x2="348.00" y2="98.00" stroke="#3cb944" stroke-width="0.9" />
<line x1="341.20" y1="76.25" x2="348.00" y2="76.25" stroke="#3cb944" stroke-width="0.9" />
</g>
<g stroke="#1f4e8c" stroke-width="0.9" stroke-opacity="0.75">
<line x1="281.10" y1="106.16" x2="281.10" y2="96.55" stroke="#1f4e8c" stroke-width="0.9" />
<line x1="277.70" y1="106.16" x2="284.50" y2="106.16" stroke="#1f4e8c" stroke-width="0.9" />
<line x1="277.70" y1="96.55" x2="284.50" y2="96.55" stroke="#1f4e8c" stroke-width="0.9" />
</g>
<g stroke="#1f4e8c" stroke-width="0.9" stroke-opacity="0.75">
<line x1="302.00" y1="99.27" x2="302.00" y2="85.86" stroke="#1f4e8c" stroke-width="0.9" />
<line x1="298.60" y1="99.27" x2="305.40" y2="99.27" stroke="#1f4e8c" stroke-width="0.9" />
<line x1="298.60" y1="85.86" x2="305.40" y2="85.86" stroke="#1f4e8c" stroke-width="0.9" />
</g>
<g stroke="#1f4e8c" stroke-width="0.9" stroke-opacity="0.75">
<line x1="322.90" y1="85.31" x2="322.90" y2="63.56" stroke="#1f4e8c" stroke-width="0.9" />
<line x1="319.50" y1="85.31" x2="326.30" y2="85.31" stroke="#1f4e8c" stroke-width="0.9" />
<line x1="319.50" y1="63.56" x2="326.30" y2="63.56" stroke="#1f4e8c" stroke-width="0.9" />
</g>
<g stroke="#1f4e8c" stroke-width="0.9" stroke-opacity="0.75">
<line x1="343.80" y1="100.36" x2="343.80" y2="76.25" stroke="#1f4e8c" stroke-width="0.9" />
<line x1="340.40" y1="100.36" x2="347.20" y2="100.36" stroke="#1f4e8c" stroke-width="0.9" />
<line x1="340.40" y1="76.25" x2="347.20" y2="76.25" stroke="#1f4e8c" stroke-width="0.9" />
</g>
<polyline points="259.40,83.50 280.30,95.83 301.20,98.91 322.10,75.16 343.00,80.60" fill="none" stroke="#c8102e" stroke-width="1.35"/>
<polyline points="260.20,83.50 281.10,100.17 302.00,92.56 322.90,74.44 343.80,87.12" fill="none" stroke="#1f4e8c" stroke-width="1.35"/>
<polyline points="261.00,83.50 281.90,130.62 302.80,114.31 323.70,64.47 344.60,85.86" fill="none" stroke="#3cb944" stroke-width="1.35"/>
<g stroke="#c8102e" stroke-width="0.9" stroke-opacity="0.75">
<line x1="384.90" y1="103.44" x2="384.90" y2="83.50" stroke="#c8102e" stroke-width="0.9" />
<line x1="381.50" y1="103.44" x2="388.30" y2="103.44" stroke="#c8102e" stroke-width="0.9" />
<line x1="381.50" y1="83.50" x2="388.30" y2="83.50" stroke="#c8102e" stroke-width="0.9" />
</g>
<g stroke="#c8102e" stroke-width="0.9" stroke-opacity="0.75">
<line x1="405.90" y1="104.71" x2="405.90" y2="79.88" stroke="#c8102e" stroke-width="0.9" />
<line x1="402.50" y1="104.71" x2="409.30" y2="104.71" stroke="#c8102e" stroke-width="0.9" />
<line x1="402.50" y1="79.88" x2="409.30" y2="79.88" stroke="#c8102e" stroke-width="0.9" />
</g>
<g stroke="#c8102e" stroke-width="0.9" stroke-opacity="0.75">
<line x1="426.90" y1="86.58" x2="426.90" y2="65.74" stroke="#c8102e" stroke-width="0.9" />
<line x1="423.50" y1="86.58" x2="430.30" y2="86.58" stroke="#c8102e" stroke-width="0.9" />
<line x1="423.50" y1="65.74" x2="430.30" y2="65.74" stroke="#c8102e" stroke-width="0.9" />
</g>
<g stroke="#c8102e" stroke-width="0.9" stroke-opacity="0.75">
<line x1="447.90" y1="89.84" x2="447.90" y2="67.73" stroke="#c8102e" stroke-width="0.9" />
<line x1="444.50" y1="89.84" x2="451.30" y2="89.84" stroke="#c8102e" stroke-width="0.9" />
<line x1="444.50" y1="67.73" x2="451.30" y2="67.73" stroke="#c8102e" stroke-width="0.9" />
</g>
<g stroke="#3cb944" stroke-width="0.9" stroke-opacity="0.75">
<line x1="386.50" y1="134.25" x2="386.50" y2="121.02" stroke="#3cb944" stroke-width="0.9" />
<line x1="383.10" y1="134.25" x2="389.90" y2="134.25" stroke="#3cb944" stroke-width="0.9" />
<line x1="383.10" y1="121.02" x2="389.90" y2="121.02" stroke="#3cb944" stroke-width="0.9" />
</g>
<g stroke="#3cb944" stroke-width="0.9" stroke-opacity="0.75">
<line x1="407.50" y1="117.03" x2="407.50" y2="106.34" stroke="#3cb944" stroke-width="0.9" />
<line x1="404.10" y1="117.03" x2="410.90" y2="117.03" stroke="#3cb944" stroke-width="0.9" />
<line x1="404.10" y1="106.34" x2="410.90" y2="106.34" stroke="#3cb944" stroke-width="0.9" />
</g>
<g stroke="#3cb944" stroke-width="0.9" stroke-opacity="0.75">
<line x1="428.50" y1="73.35" x2="428.50" y2="59.39" stroke="#3cb944" stroke-width="0.9" />
<line x1="425.10" y1="73.35" x2="431.90" y2="73.35" stroke="#3cb944" stroke-width="0.9" />
<line x1="425.10" y1="59.39" x2="431.90" y2="59.39" stroke="#3cb944" stroke-width="0.9" />
</g>
<g stroke="#3cb944" stroke-width="0.9" stroke-opacity="0.75">
<line x1="449.50" y1="73.35" x2="449.50" y2="60.66" stroke="#3cb944" stroke-width="0.9" />
<line x1="446.10" y1="73.35" x2="452.90" y2="73.35" stroke="#3cb944" stroke-width="0.9" />
<line x1="446.10" y1="60.66" x2="452.90" y2="60.66" stroke="#3cb944" stroke-width="0.9" />
</g>
<g stroke="#1f4e8c" stroke-width="0.9" stroke-opacity="0.75">
<line x1="385.70" y1="105.25" x2="385.70" y2="94.74" stroke="#1f4e8c" stroke-width="0.9" />
<line x1="382.30" y1="105.25" x2="389.10" y2="105.25" stroke="#1f4e8c" stroke-width="0.9" />
<line x1="382.30" y1="94.74" x2="389.10" y2="94.74" stroke="#1f4e8c" stroke-width="0.9" />
</g>
<g stroke="#1f4e8c" stroke-width="0.9" stroke-opacity="0.75">
<line x1="406.70" y1="103.98" x2="406.70" y2="92.56" stroke="#1f4e8c" stroke-width="0.9" />
<line x1="403.30" y1="103.98" x2="410.10" y2="103.98" stroke="#1f4e8c" stroke-width="0.9" />
<line x1="403.30" y1="92.56" x2="410.10" y2="92.56" stroke="#1f4e8c" stroke-width="0.9" />
</g>
<g stroke="#1f4e8c" stroke-width="0.9" stroke-opacity="0.75">
<line x1="427.70" y1="80.78" x2="427.70" y2="64.11" stroke="#1f4e8c" stroke-width="0.9" />
<line x1="424.30" y1="80.78" x2="431.10" y2="80.78" stroke="#1f4e8c" stroke-width="0.9" />
<line x1="424.30" y1="64.11" x2="431.10" y2="64.11" stroke="#1f4e8c" stroke-width="0.9" />
</g>
<g stroke="#1f4e8c" stroke-width="0.9" stroke-opacity="0.75">
<line x1="448.70" y1="79.88" x2="448.70" y2="67.37" stroke="#1f4e8c" stroke-width="0.9" />
<line x1="445.30" y1="79.88" x2="452.10" y2="79.88" stroke="#1f4e8c" stroke-width="0.9" />
<line x1="445.30" y1="67.37" x2="452.10" y2="67.37" stroke="#1f4e8c" stroke-width="0.9" />
</g>
<polyline points="363.90,83.50 384.90,93.65 405.90,90.75 426.90,77.16 447.90,78.24" fill="none" stroke="#c8102e" stroke-width="1.35"/>
<polyline points="364.70,83.50 385.70,99.63 406.70,97.09 427.70,71.72 448.70,73.35" fill="none" stroke="#1f4e8c" stroke-width="1.35"/>
<polyline points="365.50,83.50 386.50,127.00 407.50,110.69 428.50,66.10 449.50,67.37" fill="none" stroke="#3cb944" stroke-width="1.35"/>
<text x="469.40" y="21.90" font-size="7.2" text-anchor="start" fill="#222" font-weight="normal" >Dose, mg</text>
<line x1="469.20" y1="28.80" x2="478.00" y2="28.80" stroke="#c8102e" stroke-width="1.8" />
<text x="480.30" y="31.30" font-size="7.2" text-anchor="start" fill="#222" font-weight="normal" >0.015&#8211;0.3</text>
<line x1="469.20" y1="37.60" x2="478.00" y2="37.60" stroke="#1f4e8c" stroke-width="1.8" />
<text x="480.30" y="40.10" font-size="7.2" text-anchor="start" fill="#222" font-weight="normal" >0.6&#8211;1.8</text>
<line x1="469.20" y1="46.40" x2="478.00" y2="46.40" stroke="#3cb944" stroke-width="1.8" />
<text x="480.30" y="48.90" font-size="7.2" text-anchor="start" fill="#222" font-weight="normal" >4&#8211;25</text>
<line x1="48.90" y1="307.30" x2="436.60" y2="307.30" stroke="#222" stroke-width="1.2" />
<line x1="232.40" y1="307.30" x2="232.40" y2="636.00" stroke="#333" stroke-width="1.1" />
<line x1="48.90" y1="471.30" x2="232.40" y2="471.30" stroke="#333" stroke-width="1.1" />
<rect x="415.50" y="307.30" width="10.90" height="328.70" fill="#e2e2e2" stroke="none" stroke-width="1" />
<line x1="416.60" y1="307.90" x2="416.60" y2="635.40" stroke="#f4f4f4" stroke-width="0.9" />
<line x1="425.00" y1="307.90" x2="425.00" y2="635.40" stroke="#fafafa" stroke-width="1.0" />
<rect x="426.40" y="307.30" width="10.20" height="328.70" fill="#b4b4b4" stroke="none" stroke-width="1" />
<line x1="415.50" y1="307.30" x2="415.50" y2="636.00" stroke="#222" stroke-width="1.1" />
<line x1="426.40" y1="307.30" x2="426.40" y2="636.00" stroke="#222" stroke-width="1.1" />
<line x1="436.60" y1="306.80" x2="436.60" y2="636.60" stroke="#222" stroke-width="1.1" />
<line x1="415.50" y1="307.30" x2="437.10" y2="307.30" stroke="#222" stroke-width="1.2" />
<text transform="translate(418.5,388.7) rotate(90)" font-size="7.0" text-anchor="middle" fill="#111" class="cs">6 H EOI</text>
<text transform="translate(418.5,551.5) rotate(90)" font-size="7.0" text-anchor="middle" fill="#111" class="cs">End of cycle</text>
<text transform="translate(429.3,471.4) rotate(90)" font-size="7.0" text-anchor="middle" fill="#111" class="cs">Time point</text>
<line x1="48.90" y1="368.00" x2="415.50" y2="368.00" stroke="#555" stroke-width="1.0" stroke-dasharray="3.2,2"/>
<line x1="48.90" y1="532.20" x2="415.50" y2="532.20" stroke="#555" stroke-width="1.0" stroke-dasharray="3.2,2"/>
<line x1="48.90" y1="307.30" x2="48.90" y2="638.50" stroke="#444" stroke-width="1.6" />
<line x1="45.90" y1="318.68" x2="48.90" y2="318.68" stroke="#333" stroke-width="1" />
<text x="43.50" y="321.43" font-size="7.8" text-anchor="end" fill="#1a1a1a" font-weight="normal" >4</text>
<line x1="45.90" y1="343.34" x2="48.90" y2="343.34" stroke="#333" stroke-width="1" />
<text x="43.50" y="346.09" font-size="7.8" text-anchor="end" fill="#1a1a1a" font-weight="normal" >2</text>
<line x1="45.90" y1="368.00" x2="48.90" y2="368.00" stroke="#333" stroke-width="1" />
<text x="43.50" y="370.75" font-size="7.8" text-anchor="end" fill="#1a1a1a" font-weight="normal" >0</text>
<line x1="45.90" y1="392.66" x2="48.90" y2="392.66" stroke="#333" stroke-width="1" />
<text x="43.50" y="395.41" font-size="7.8" text-anchor="end" fill="#1a1a1a" font-weight="normal" >&#8722;2</text>
<line x1="45.90" y1="417.32" x2="48.90" y2="417.32" stroke="#333" stroke-width="1" />
<text x="43.50" y="420.07" font-size="7.8" text-anchor="end" fill="#1a1a1a" font-weight="normal" >&#8722;4</text>
<line x1="45.90" y1="441.98" x2="48.90" y2="441.98" stroke="#333" stroke-width="1" />
<text x="43.50" y="444.73" font-size="7.8" text-anchor="end" fill="#1a1a1a" font-weight="normal" >&#8722;6</text>
<line x1="45.90" y1="466.64" x2="48.90" y2="466.64" stroke="#333" stroke-width="1" />
<text x="43.50" y="469.39" font-size="7.8" text-anchor="end" fill="#1a1a1a" font-weight="normal" >&#8722;8</text>
<line x1="45.90" y1="482.88" x2="48.90" y2="482.88" stroke="#333" stroke-width="1" />
<text x="43.50" y="485.63" font-size="7.8" text-anchor="end" fill="#1a1a1a" font-weight="normal" >4</text>
<line x1="45.90" y1="507.54" x2="48.90" y2="507.54" stroke="#333" stroke-width="1" />
<text x="43.50" y="510.29" font-size="7.8" text-anchor="end" fill="#1a1a1a" font-weight="normal" >2</text>
<line x1="45.90" y1="532.20" x2="48.90" y2="532.20" stroke="#333" stroke-width="1" />
<text x="43.50" y="534.95" font-size="7.8" text-anchor="end" fill="#1a1a1a" font-weight="normal" >0</text>
<line x1="45.90" y1="556.86" x2="48.90" y2="556.86" stroke="#333" stroke-width="1" />
<text x="43.50" y="559.61" font-size="7.8" text-anchor="end" fill="#1a1a1a" font-weight="normal" >&#8722;2</text>
<line x1="45.90" y1="581.52" x2="48.90" y2="581.52" stroke="#333" stroke-width="1" />
<text x="43.50" y="584.27" font-size="7.8" text-anchor="end" fill="#1a1a1a" font-weight="normal" >&#8722;4</text>
<line x1="45.90" y1="606.18" x2="48.90" y2="606.18" stroke="#333" stroke-width="1" />
<text x="43.50" y="608.93" font-size="7.8" text-anchor="end" fill="#1a1a1a" font-weight="normal" >&#8722;6</text>
<line x1="45.90" y1="630.84" x2="48.90" y2="630.84" stroke="#333" stroke-width="1" />
<text x="43.50" y="633.59" font-size="7.8" text-anchor="end" fill="#1a1a1a" font-weight="normal" >&#8722;8</text>
<line x1="48.10" y1="636.00" x2="436.60" y2="636.00" stroke="#333" stroke-width="1.4" />
<line x1="93.60" y1="636.00" x2="93.60" y2="638.50" stroke="#333" stroke-width="1" />
<text x="93.60" y="648.20" font-size="7.5" text-anchor="middle" fill="#222" font-weight="normal" >CR</text>
<line x1="131.50" y1="636.00" x2="131.50" y2="638.50" stroke="#333" stroke-width="1" />
<text x="131.50" y="648.20" font-size="7.5" text-anchor="middle" fill="#222" font-weight="normal" >PR</text>
<line x1="169.70" y1="636.00" x2="169.70" y2="638.50" stroke="#333" stroke-width="1" />
<text x="169.70" y="648.20" font-size="7.5" text-anchor="middle" fill="#222" font-weight="normal" >SD</text>
<line x1="207.70" y1="636.00" x2="207.70" y2="638.50" stroke="#333" stroke-width="1" />
<text x="207.70" y="648.20" font-size="7.5" text-anchor="middle" fill="#222" font-weight="normal" >PD</text>
<text x="141" y="668.7" font-size="9.4" text-anchor="middle" fill="#111" textLength="12.6" lengthAdjust="spacingAndGlyphs" class="cn">BOR</text>
<text x="327" y="669.2" font-size="9" text-anchor="middle" fill="#111" textLength="26.2" lengthAdjust="spacingAndGlyphs" class="cn">Dose, mg</text>
<text transform="translate(13.9,472.5) rotate(-90)" font-size="9.2" text-anchor="middle" fill="#111" textLength="87.4" lengthAdjust="spacingAndGlyphs" class="cn">Peripheral CD3+ T cell subsets</text>
<text transform="translate(24.7,471.6) rotate(-90)" font-size="9.2" text-anchor="middle" fill="#111" textLength="95.4" lengthAdjust="spacingAndGlyphs" class="cn">(log2FC relative to C1D1 predose)</text>
<text x="51.60" y="316.20" font-size="7.1" text-anchor="start" fill="#111" font-weight="normal" >Mean</text>
<text x="51.60" y="324.60" font-size="7.1" text-anchor="start" fill="#111" font-weight="normal" >N</text>
<text x="93.60" y="316.20" font-size="7.1" text-anchor="middle" fill="#111" font-weight="normal" >&#8722;3.3016</text>
<text x="93.60" y="324.60" font-size="7.1" text-anchor="middle" fill="#111" font-weight="normal" >28</text>
<text x="131.50" y="316.20" font-size="7.1" text-anchor="middle" fill="#111" font-weight="normal" >&#8722;2.2153</text>
<text x="131.50" y="324.60" font-size="7.1" text-anchor="middle" fill="#111" font-weight="normal" >15</text>
<text x="169.70" y="316.20" font-size="7.1" text-anchor="middle" fill="#111" font-weight="normal" >&#8722;1.329</text>
<text x="169.70" y="324.60" font-size="7.1" text-anchor="middle" fill="#111" font-weight="normal" >21</text>
<text x="207.70" y="316.20" font-size="7.1" text-anchor="middle" fill="#111" font-weight="normal" >&#8722;1.8614</text>
<text x="207.70" y="324.60" font-size="7.1" text-anchor="middle" fill="#111" font-weight="normal" >34</text>
<text x="51.60" y="481.10" font-size="7.1" text-anchor="start" fill="#111" font-weight="normal" >Mean</text>
<text x="51.60" y="489.50" font-size="7.1" text-anchor="start" fill="#111" font-weight="normal" >N</text>
<text x="93.60" y="481.10" font-size="7.1" text-anchor="middle" fill="#111" font-weight="normal" >0.24202</text>
<text x="93.60" y="489.50" font-size="7.1" text-anchor="middle" fill="#111" font-weight="normal" >30</text>
<text x="131.50" y="481.10" font-size="7.1" text-anchor="middle" fill="#111" font-weight="normal" >0.16336</text>
<text x="131.50" y="489.50" font-size="7.1" text-anchor="middle" fill="#111" font-weight="normal" >17</text>
<text x="169.70" y="481.10" font-size="7.1" text-anchor="middle" fill="#111" font-weight="normal" >0.28163</text>
<text x="169.70" y="489.50" font-size="7.1" text-anchor="middle" fill="#111" font-weight="normal" >23</text>
<text x="207.70" y="481.10" font-size="7.1" text-anchor="middle" fill="#111" font-weight="normal" >&#8722;0.1328</text>
<text x="207.70" y="489.50" font-size="7.1" text-anchor="middle" fill="#111" font-weight="normal" >32</text>
<text x="233.90" y="316.30" font-size="7.1" text-anchor="start" fill="#111" font-weight="normal" >RMSE: 1.11</text>
<text x="233.90" y="324.60" font-size="7.1" text-anchor="start" fill="#111" font-weight="normal" >R<tspan font-size="5" dy="-2.9">2</tspan><tspan dy="2.9">: 0.620</tspan></text>
<text x="233.90" y="480.90" font-size="7.1" text-anchor="start" fill="#111" font-weight="normal" >RMSE: 0.74</text>
<text x="233.90" y="489.20" font-size="7.1" text-anchor="start" fill="#111" font-weight="normal" >R<tspan font-size="5" dy="-2.9">2</tspan><tspan dy="2.9">: 0.002</tspan></text>
<path d="M94.5,357.2 V346.3 H169.5 V352.4" fill="none" stroke="#222" stroke-width="1.1"/>
<line x1="132.00" y1="352.40" x2="205.50" y2="352.40" stroke="#222" stroke-width="1.1" />
<text x="132.00" y="341.60" font-size="7.4" text-anchor="middle" fill="#111" font-weight="normal" >p&lt;0.002</text>
<line x1="93.80" y1="370.00" x2="93.80" y2="388.90" stroke="#cf2040" stroke-width="1.0" />
<line x1="93.80" y1="425.70" x2="93.80" y2="464.20" stroke="#cf2040" stroke-width="1.0" />
<line x1="84.80" y1="370.00" x2="102.80" y2="370.00" stroke="#cf2040" stroke-width="1.0" />
<line x1="84.80" y1="464.20" x2="102.80" y2="464.20" stroke="#cf2040" stroke-width="1.0" />
<rect x="84.00" y="388.90" width="19.60" height="36.80" fill="#e18294" stroke="#cf2040" stroke-width="1.1" />
<line x1="84.00" y1="410.50" x2="103.60" y2="410.50" stroke="#cf2040" stroke-width="1.1" />
<circle cx="95.20" cy="370.00" r="1.55" fill="#c8002a"/>
<circle cx="90.30" cy="375.00" r="1.55" fill="#c8002a"/>
<circle cx="91.90" cy="376.20" r="1.55" fill="#c8002a"/>
<circle cx="90.80" cy="378.70" r="1.55" fill="#c8002a"/>
<circle cx="96.00" cy="379.00" r="1.55" fill="#c8002a"/>
<circle cx="91.10" cy="380.80" r="1.55" fill="#c8002a"/>
<circle cx="94.00" cy="389.20" r="1.55" fill="#c8002a"/>
<circle cx="85.40" cy="394.10" r="1.55" fill="#c8002a"/>
<circle cx="91.90" cy="394.10" r="1.55" fill="#c8002a"/>
<circle cx="91.90" cy="396.50" r="1.55" fill="#c8002a"/>
<circle cx="96.30" cy="396.00" r="1.55" fill="#c8002a"/>
<circle cx="95.20" cy="408.70" r="1.55" fill="#c8002a"/>
<circle cx="91.90" cy="410.00" r="1.55" fill="#c8002a"/>
<circle cx="96.00" cy="410.30" r="1.55" fill="#c8002a"/>
<circle cx="85.40" cy="413.20" r="1.55" fill="#c8002a"/>
<circle cx="89.50" cy="415.20" r="1.55" fill="#c8002a"/>
<circle cx="94.30" cy="413.20" r="1.55" fill="#c8002a"/>
<circle cx="98.90" cy="412.00" r="1.55" fill="#c8002a"/>
<circle cx="91.40" cy="420.00" r="1.55" fill="#c8002a"/>
<circle cx="95.60" cy="425.00" r="1.55" fill="#c8002a"/>
<circle cx="97.60" cy="425.00" r="1.55" fill="#c8002a"/>
<circle cx="91.90" cy="429.80" r="1.55" fill="#c8002a"/>
<circle cx="92.70" cy="442.00" r="1.55" fill="#c8002a"/>
<circle cx="94.30" cy="444.40" r="1.55" fill="#c8002a"/>
<circle cx="91.90" cy="452.20" r="1.55" fill="#c8002a"/>
<circle cx="94.30" cy="464.20" r="1.55" fill="#c8002a"/>
<circle cx="93.00" cy="425.50" r="1.55" fill="#c8002a"/>
<circle cx="92.50" cy="431.00" r="1.55" fill="#c8002a"/>
<line x1="93.80" y1="517.30" x2="93.80" y2="522.80" stroke="#cf2040" stroke-width="1.0" />
<line x1="93.80" y1="535.30" x2="93.80" y2="541.50" stroke="#cf2040" stroke-width="1.0" />
<line x1="84.80" y1="517.30" x2="102.80" y2="517.30" stroke="#cf2040" stroke-width="1.0" />
<line x1="84.80" y1="541.50" x2="102.80" y2="541.50" stroke="#cf2040" stroke-width="1.0" />
<rect x="83.90" y="522.80" width="19.70" height="12.50" fill="#e18294" stroke="#cf2040" stroke-width="1.1" />
<line x1="83.90" y1="530.30" x2="103.60" y2="530.30" stroke="#cf2040" stroke-width="1.1" />
<circle cx="93.00" cy="504.00" r="1.55" fill="#c8002a"/>
<circle cx="92.30" cy="517.00" r="1.55" fill="#c8002a"/>
<circle cx="95.20" cy="520.20" r="1.55" fill="#c8002a"/>
<circle cx="93.00" cy="521.60" r="1.55" fill="#c8002a"/>
<circle cx="98.80" cy="522.40" r="1.55" fill="#c8002a"/>
<circle cx="90.90" cy="523.80" r="1.55" fill="#c8002a"/>
<circle cx="96.60" cy="523.80" r="1.55" fill="#c8002a"/>
<circle cx="91.60" cy="526.70" r="1.55" fill="#c8002a"/>
<circle cx="98.10" cy="528.80" r="1.55" fill="#c8002a"/>
<circle cx="95.20" cy="530.30" r="1.55" fill="#c8002a"/>
<circle cx="89.40" cy="531.70" r="1.55" fill="#c8002a"/>
<circle cx="94.50" cy="532.50" r="1.55" fill="#c8002a"/>
<circle cx="97.40" cy="533.20" r="1.55" fill="#c8002a"/>
<circle cx="89.40" cy="534.60" r="1.55" fill="#c8002a"/>
<circle cx="96.60" cy="536.00" r="1.55" fill="#c8002a"/>
<circle cx="93.00" cy="536.80" r="1.55" fill="#c8002a"/>
<circle cx="98.10" cy="538.20" r="1.55" fill="#c8002a"/>
<circle cx="92.30" cy="539.20" r="1.55" fill="#c8002a"/>
<circle cx="91.60" cy="541.50" r="1.55" fill="#c8002a"/>
<circle cx="94.00" cy="529.00" r="1.55" fill="#c8002a"/>
<circle cx="91.00" cy="530.00" r="1.55" fill="#c8002a"/>
<circle cx="96.00" cy="531.50" r="1.55" fill="#c8002a"/>
<circle cx="93.50" cy="534.00" r="1.55" fill="#c8002a"/>
<circle cx="92.00" cy="535.50" r="1.55" fill="#c8002a"/>
<circle cx="97.00" cy="527.00" r="1.55" fill="#c8002a"/>
<circle cx="95.00" cy="525.00" r="1.55" fill="#c8002a"/>
<line x1="131.60" y1="367.80" x2="131.60" y2="374.30" stroke="#2f5f95" stroke-width="1.0" />
<line x1="131.60" y1="414.90" x2="131.60" y2="432.60" stroke="#2f5f95" stroke-width="1.0" />
<line x1="122.60" y1="367.80" x2="140.60" y2="367.80" stroke="#2f5f95" stroke-width="1.0" />
<line x1="122.60" y1="432.60" x2="140.60" y2="432.60" stroke="#2f5f95" stroke-width="1.0" />
<rect x="121.60" y="374.30" width="20.00" height="40.60" fill="#85a4c4" stroke="#2f5f95" stroke-width="1.1" />
<line x1="121.60" y1="385.50" x2="141.60" y2="385.50" stroke="#2f5f95" stroke-width="1.1" />
<circle cx="131.70" cy="367.80" r="1.55" fill="#0a468c"/>
<circle cx="136.60" cy="371.40" r="1.55" fill="#0a468c"/>
<circle cx="129.30" cy="373.80" r="1.55" fill="#0a468c"/>
<circle cx="131.70" cy="379.50" r="1.55" fill="#0a468c"/>
<circle cx="132.20" cy="381.10" r="1.55" fill="#0a468c"/>
<circle cx="128.40" cy="384.70" r="1.55" fill="#0a468c"/>
<circle cx="135.70" cy="385.50" r="1.55" fill="#0a468c"/>
<circle cx="127.10" cy="405.50" r="1.55" fill="#0a468c"/>
<circle cx="132.50" cy="403.80" r="1.55" fill="#0a468c"/>
<circle cx="134.90" cy="401.90" r="1.55" fill="#0a468c"/>
<circle cx="135.40" cy="414.00" r="1.55" fill="#0a468c"/>
<circle cx="130.90" cy="422.50" r="1.55" fill="#0a468c"/>
<circle cx="130.10" cy="425.00" r="1.55" fill="#0a468c"/>
<circle cx="132.20" cy="432.60" r="1.55" fill="#0a468c"/>
<circle cx="131.00" cy="424.00" r="1.55" fill="#0a468c"/>
<line x1="132.00" y1="507.20" x2="132.00" y2="522.60" stroke="#2f5f95" stroke-width="1.0" />
<line x1="132.00" y1="537.20" x2="132.00" y2="549.80" stroke="#2f5f95" stroke-width="1.0" />
<line x1="123.00" y1="507.20" x2="141.00" y2="507.20" stroke="#2f5f95" stroke-width="1.0" />
<line x1="123.00" y1="549.80" x2="141.00" y2="549.80" stroke="#2f5f95" stroke-width="1.0" />
<rect x="121.40" y="522.60" width="20.20" height="14.60" fill="#85a4c4" stroke="#2f5f95" stroke-width="1.1" />
<line x1="121.40" y1="532.50" x2="141.60" y2="532.50" stroke="#2f5f95" stroke-width="1.1" />
<circle cx="129.10" cy="507.20" r="1.55" fill="#0a468c"/>
<circle cx="132.70" cy="514.90" r="1.55" fill="#0a468c"/>
<circle cx="132.00" cy="522.40" r="1.55" fill="#0a468c"/>
<circle cx="134.10" cy="522.80" r="1.55" fill="#0a468c"/>
<circle cx="130.50" cy="525.20" r="1.55" fill="#0a468c"/>
<circle cx="125.80" cy="526.40" r="1.55" fill="#0a468c"/>
<circle cx="133.40" cy="529.10" r="1.55" fill="#0a468c"/>
<circle cx="130.50" cy="532.50" r="1.55" fill="#0a468c"/>
<circle cx="131.30" cy="533.50" r="1.55" fill="#0a468c"/>
<circle cx="129.80" cy="535.30" r="1.55" fill="#0a468c"/>
<circle cx="128.40" cy="536.80" r="1.55" fill="#0a468c"/>
<circle cx="132.00" cy="536.10" r="1.55" fill="#0a468c"/>
<circle cx="134.10" cy="542.60" r="1.55" fill="#0a468c"/>
<circle cx="132.70" cy="549.80" r="1.55" fill="#0a468c"/>
<circle cx="131.00" cy="534.00" r="1.55" fill="#0a468c"/>
<circle cx="133.00" cy="532.00" r="1.55" fill="#0a468c"/>
<line x1="169.50" y1="360.80" x2="169.50" y2="374.40" stroke="#45bd55" stroke-width="1.0" />
<line x1="169.50" y1="396.50" x2="169.50" y2="412.70" stroke="#45bd55" stroke-width="1.0" />
<line x1="160.50" y1="360.80" x2="178.50" y2="360.80" stroke="#45bd55" stroke-width="1.0" />
<line x1="160.50" y1="412.70" x2="178.50" y2="412.70" stroke="#45bd55" stroke-width="1.0" />
<rect x="159.40" y="374.40" width="20.10" height="22.10" fill="#a0dca5" stroke="#45bd55" stroke-width="1.1" />
<line x1="159.40" y1="381.40" x2="179.50" y2="381.40" stroke="#45bd55" stroke-width="1.1" />
<circle cx="167.00" cy="360.80" r="1.55" fill="#22b03a"/>
<circle cx="170.30" cy="364.70" r="1.55" fill="#22b03a"/>
<circle cx="168.20" cy="370.80" r="1.55" fill="#22b03a"/>
<circle cx="171.10" cy="373.30" r="1.55" fill="#22b03a"/>
<circle cx="166.20" cy="376.50" r="1.55" fill="#22b03a"/>
<circle cx="169.50" cy="377.30" r="1.55" fill="#22b03a"/>
<circle cx="172.70" cy="377.30" r="1.55" fill="#22b03a"/>
<circle cx="167.90" cy="378.10" r="1.55" fill="#22b03a"/>
<circle cx="171.90" cy="382.20" r="1.55" fill="#22b03a"/>
<circle cx="170.30" cy="383.00" r="1.55" fill="#22b03a"/>
<circle cx="164.90" cy="389.50" r="1.55" fill="#22b03a"/>
<circle cx="169.50" cy="395.50" r="1.55" fill="#22b03a"/>
<circle cx="173.50" cy="394.90" r="1.55" fill="#22b03a"/>
<circle cx="167.90" cy="399.30" r="1.55" fill="#22b03a"/>
<circle cx="169.80" cy="402.00" r="1.55" fill="#22b03a"/>
<circle cx="171.10" cy="411.40" r="1.55" fill="#22b03a"/>
<circle cx="173.10" cy="412.70" r="1.55" fill="#22b03a"/>
<circle cx="168.50" cy="374.50" r="1.55" fill="#22b03a"/>
<circle cx="170.50" cy="380.00" r="1.55" fill="#22b03a"/>
<circle cx="167.00" cy="412.00" r="1.55" fill="#22b03a"/>
<circle cx="171.00" cy="372.00" r="1.55" fill="#22b03a"/>
<line x1="169.90" y1="502.60" x2="169.90" y2="519.20" stroke="#45bd55" stroke-width="1.0" />
<line x1="169.90" y1="533.90" x2="169.90" y2="543.70" stroke="#45bd55" stroke-width="1.0" />
<line x1="160.90" y1="502.60" x2="178.90" y2="502.60" stroke="#45bd55" stroke-width="1.0" />
<line x1="160.90" y1="543.70" x2="178.90" y2="543.70" stroke="#45bd55" stroke-width="1.0" />
<rect x="159.80" y="519.20" width="20.10" height="14.70" fill="#a0dca5" stroke="#45bd55" stroke-width="1.1" />
<line x1="159.80" y1="532.50" x2="179.90" y2="532.50" stroke="#45bd55" stroke-width="1.1" />
<circle cx="169.90" cy="502.20" r="1.55" fill="#22b03a"/>
<circle cx="165.10" cy="515.90" r="1.55" fill="#22b03a"/>
<circle cx="168.80" cy="517.00" r="1.55" fill="#22b03a"/>
<circle cx="172.40" cy="514.40" r="1.55" fill="#22b03a"/>
<circle cx="171.60" cy="517.30" r="1.55" fill="#22b03a"/>
<circle cx="161.30" cy="519.20" r="1.55" fill="#22b03a"/>
<circle cx="171.60" cy="525.20" r="1.55" fill="#22b03a"/>
<circle cx="171.90" cy="526.70" r="1.55" fill="#22b03a"/>
<circle cx="167.30" cy="528.80" r="1.55" fill="#22b03a"/>
<circle cx="164.40" cy="531.00" r="1.55" fill="#22b03a"/>
<circle cx="168.80" cy="530.30" r="1.55" fill="#22b03a"/>
<circle cx="170.90" cy="531.00" r="1.55" fill="#22b03a"/>
<circle cx="166.60" cy="531.70" r="1.55" fill="#22b03a"/>
<circle cx="168.00" cy="538.90" r="1.55" fill="#22b03a"/>
<circle cx="167.30" cy="540.10" r="1.55" fill="#22b03a"/>
<circle cx="170.20" cy="543.30" r="1.55" fill="#22b03a"/>
<circle cx="163.00" cy="532.00" r="1.55" fill="#22b03a"/>
<circle cx="172.00" cy="532.50" r="1.55" fill="#22b03a"/>
<circle cx="166.00" cy="530.00" r="1.55" fill="#22b03a"/>
<line x1="207.80" y1="369.50" x2="207.80" y2="374.60" stroke="#62257d" stroke-width="1.0" />
<line x1="207.80" y1="404.40" x2="207.80" y2="437.00" stroke="#62257d" stroke-width="1.0" />
<line x1="198.80" y1="369.50" x2="216.80" y2="369.50" stroke="#62257d" stroke-width="1.0" />
<line x1="198.80" y1="437.00" x2="216.80" y2="437.00" stroke="#62257d" stroke-width="1.0" />
<rect x="198.00" y="374.60" width="19.50" height="29.80" fill="#aa91be" stroke="#62257d" stroke-width="1.1" />
<line x1="198.00" y1="383.00" x2="217.50" y2="383.00" stroke="#62257d" stroke-width="1.1" />
<circle cx="202.30" cy="370.80" r="1.55" fill="#4b0f6e"/>
<circle cx="206.00" cy="369.20" r="1.55" fill="#4b0f6e"/>
<circle cx="208.40" cy="372.50" r="1.55" fill="#4b0f6e"/>
<circle cx="209.30" cy="374.90" r="1.55" fill="#4b0f6e"/>
<circle cx="206.00" cy="378.10" r="1.55" fill="#4b0f6e"/>
<circle cx="207.60" cy="379.80" r="1.55" fill="#4b0f6e"/>
<circle cx="206.00" cy="384.20" r="1.55" fill="#4b0f6e"/>
<circle cx="201.10" cy="389.50" r="1.55" fill="#4b0f6e"/>
<circle cx="210.10" cy="392.80" r="1.55" fill="#4b0f6e"/>
<circle cx="208.40" cy="396.00" r="1.55" fill="#4b0f6e"/>
<circle cx="204.40" cy="397.60" r="1.55" fill="#4b0f6e"/>
<circle cx="210.40" cy="400.90" r="1.55" fill="#4b0f6e"/>
<circle cx="207.60" cy="403.60" r="1.55" fill="#4b0f6e"/>
<circle cx="214.10" cy="404.60" r="1.55" fill="#4b0f6e"/>
<circle cx="209.30" cy="414.70" r="1.55" fill="#4b0f6e"/>
<circle cx="206.00" cy="417.90" r="1.55" fill="#4b0f6e"/>
<circle cx="208.40" cy="418.20" r="1.55" fill="#4b0f6e"/>
<circle cx="204.10" cy="424.10" r="1.55" fill="#4b0f6e"/>
<circle cx="210.40" cy="424.40" r="1.55" fill="#4b0f6e"/>
<circle cx="203.60" cy="437.10" r="1.55" fill="#4b0f6e"/>
<circle cx="207.00" cy="376.00" r="1.55" fill="#4b0f6e"/>
<circle cx="208.00" cy="381.00" r="1.55" fill="#4b0f6e"/>
<circle cx="206.50" cy="382.50" r="1.55" fill="#4b0f6e"/>
<circle cx="205.00" cy="371.00" r="1.55" fill="#4b0f6e"/>
<circle cx="209.00" cy="386.00" r="1.55" fill="#4b0f6e"/>
<circle cx="212.00" cy="395.00" r="1.55" fill="#4b0f6e"/>
<circle cx="204.00" cy="404.00" r="1.55" fill="#4b0f6e"/>
<circle cx="206.00" cy="405.00" r="1.55" fill="#4b0f6e"/>
<circle cx="208.00" cy="410.00" r="1.55" fill="#4b0f6e"/>
<circle cx="207.00" cy="420.00" r="1.55" fill="#4b0f6e"/>
<line x1="208.00" y1="514.40" x2="208.00" y2="528.40" stroke="#62257d" stroke-width="1.0" />
<line x1="208.00" y1="540.40" x2="208.00" y2="550.80" stroke="#62257d" stroke-width="1.0" />
<line x1="199.00" y1="514.40" x2="217.00" y2="514.40" stroke="#62257d" stroke-width="1.0" />
<line x1="199.00" y1="550.80" x2="217.00" y2="550.80" stroke="#62257d" stroke-width="1.0" />
<rect x="198.30" y="528.40" width="19.20" height="12.00" fill="#aa91be" stroke="#62257d" stroke-width="1.1" />
<line x1="198.30" y1="534.60" x2="217.50" y2="534.60" stroke="#62257d" stroke-width="1.1" />
<circle cx="211.70" cy="514.40" r="1.55" fill="#4b0f6e"/>
<circle cx="206.30" cy="518.00" r="1.55" fill="#4b0f6e"/>
<circle cx="208.40" cy="523.10" r="1.55" fill="#4b0f6e"/>
<circle cx="207.40" cy="524.80" r="1.55" fill="#4b0f6e"/>
<circle cx="209.90" cy="522.80" r="1.55" fill="#4b0f6e"/>
<circle cx="204.80" cy="528.60" r="1.55" fill="#4b0f6e"/>
<circle cx="201.20" cy="531.40" r="1.55" fill="#4b0f6e"/>
<circle cx="203.10" cy="532.50" r="1.55" fill="#4b0f6e"/>
<circle cx="204.80" cy="533.90" r="1.55" fill="#4b0f6e"/>
<circle cx="203.40" cy="535.30" r="1.55" fill="#4b0f6e"/>
<circle cx="206.30" cy="536.80" r="1.55" fill="#4b0f6e"/>
<circle cx="201.20" cy="538.20" r="1.55" fill="#4b0f6e"/>
<circle cx="207.70" cy="538.20" r="1.55" fill="#4b0f6e"/>
<circle cx="209.10" cy="538.90" r="1.55" fill="#4b0f6e"/>
<circle cx="213.50" cy="538.70" r="1.55" fill="#4b0f6e"/>
<circle cx="215.60" cy="538.90" r="1.55" fill="#4b0f6e"/>
<circle cx="207.00" cy="541.10" r="1.55" fill="#4b0f6e"/>
<circle cx="205.50" cy="543.00" r="1.55" fill="#4b0f6e"/>
<circle cx="208.40" cy="550.50" r="1.55" fill="#4b0f6e"/>
<circle cx="206.00" cy="530.00" r="1.55" fill="#4b0f6e"/>
<circle cx="210.00" cy="534.00" r="1.55" fill="#4b0f6e"/>
<circle cx="204.00" cy="537.00" r="1.55" fill="#4b0f6e"/>
<circle cx="208.00" cy="536.00" r="1.55" fill="#4b0f6e"/>
<path d="M237.70,345.50 L241.97,347.45 L246.24,349.39 L250.51,351.34 L254.78,353.28 L259.05,355.22 L263.32,357.16 L267.59,359.09 L271.86,361.03 L276.13,362.96 L280.40,364.88 L284.67,366.80 L288.94,368.72 L293.21,370.63 L297.48,372.53 L301.75,374.43 L306.02,376.31 L310.29,378.18 L314.56,380.04 L318.83,381.87 L323.10,383.69 L327.37,385.48 L331.64,387.24 L335.91,388.97 L340.18,390.66 L344.45,392.32 L348.72,393.94 L352.99,395.53 L357.26,397.10 L361.53,398.64 L365.80,400.15 L370.07,401.65 L374.34,403.13 L378.61,404.60 L382.88,406.06 L387.15,407.52 L391.42,408.96 L395.69,410.40 L399.96,411.83 L404.23,413.26 L408.50,414.68 L408.50,424.92 L404.23,422.99 L399.96,421.06 L395.69,419.14 L391.42,417.22 L387.15,415.31 L382.88,413.41 L378.61,411.51 L374.34,409.63 L370.07,407.75 L365.80,405.90 L361.53,404.06 L357.26,402.24 L352.99,400.45 L348.72,398.69 L344.45,396.96 L340.18,395.26 L335.91,393.60 L331.64,391.97 L327.37,390.38 L323.10,388.81 L318.83,387.27 L314.56,385.75 L310.29,384.25 L306.02,382.77 L301.75,381.30 L297.48,379.84 L293.21,378.38 L288.94,376.94 L284.67,375.50 L280.40,374.07 L276.13,372.64 L271.86,371.21 L267.59,369.79 L263.32,368.37 L259.05,366.96 L254.78,365.54 L250.51,364.13 L246.24,362.72 L241.97,361.31 L237.70,359.90 Z" fill="#e07a90" fill-opacity="0.85" stroke="none"/>
<line x1="237.70" y1="352.70" x2="408.50" y2="419.80" stroke="#c8102e" stroke-width="1.4" />
<path d="M237.70,527.26 L241.97,527.39 L246.24,527.51 L250.51,527.64 L254.78,527.77 L259.05,527.89 L263.32,528.02 L267.59,528.14 L271.86,528.26 L276.13,528.38 L280.40,528.50 L284.67,528.61 L288.94,528.72 L293.21,528.83 L297.48,528.93 L301.75,529.03 L306.02,529.12 L310.29,529.20 L314.56,529.28 L318.83,529.34 L323.10,529.39 L327.37,529.42 L331.64,529.43 L335.91,529.43 L340.18,529.40 L344.45,529.35 L348.72,529.28 L352.99,529.19 L357.26,529.08 L361.53,528.95 L365.80,528.82 L370.07,528.67 L374.34,528.51 L378.61,528.34 L382.88,528.17 L387.15,527.99 L391.42,527.81 L395.69,527.62 L399.96,527.43 L404.23,527.24 L408.50,527.05 L408.50,533.35 L404.23,533.23 L399.96,533.12 L395.69,533.00 L391.42,532.89 L387.15,532.78 L382.88,532.68 L378.61,532.58 L374.34,532.49 L370.07,532.41 L365.80,532.33 L361.53,532.27 L357.26,532.22 L352.99,532.19 L348.72,532.17 L344.45,532.17 L340.18,532.20 L335.91,532.25 L331.64,532.32 L327.37,532.41 L323.10,532.51 L318.83,532.64 L314.56,532.77 L310.29,532.92 L306.02,533.08 L301.75,533.25 L297.48,533.42 L293.21,533.60 L288.94,533.78 L284.67,533.96 L280.40,534.15 L276.13,534.34 L271.86,534.54 L267.59,534.73 L263.32,534.93 L259.05,535.13 L254.78,535.33 L250.51,535.53 L246.24,535.74 L241.97,535.94 L237.70,536.14 Z" fill="#e07a90" fill-opacity="0.85" stroke="none"/>
<line x1="237.70" y1="531.70" x2="408.50" y2="530.20" stroke="#c8102e" stroke-width="1.4" />
<circle cx="245.50" cy="368.80" r="1.45" fill="#4b0f6e"/>
<circle cx="245.50" cy="372.30" r="1.45" fill="#4b0f6e"/>
<circle cx="268.50" cy="369.40" r="1.45" fill="#4b0f6e"/>
<circle cx="268.50" cy="371.30" r="1.45" fill="#f5a20a"/>
<circle cx="268.50" cy="373.30" r="1.45" fill="#22b03a"/>
<circle cx="268.50" cy="382.30" r="1.45" fill="#0a468c"/>
<circle cx="277.50" cy="371.30" r="1.45" fill="#0a468c"/>
<circle cx="277.50" cy="374.60" r="1.45" fill="#4b0f6e"/>
<circle cx="277.50" cy="379.40" r="1.45" fill="#0a468c"/>
<circle cx="277.50" cy="384.80" r="1.45" fill="#0a468c"/>
<circle cx="285.40" cy="365.20" r="1.45" fill="#22b03a"/>
<circle cx="285.40" cy="369.40" r="1.45" fill="#4b0f6e"/>
<circle cx="285.40" cy="377.10" r="1.45" fill="#4b0f6e"/>
<circle cx="285.40" cy="385.80" r="1.45" fill="#0a468c"/>
<circle cx="285.40" cy="390.00" r="1.45" fill="#22b03a"/>
<circle cx="301.70" cy="360.80" r="1.45" fill="#22b03a"/>
<circle cx="301.70" cy="373.30" r="1.45" fill="#0a468c"/>
<circle cx="301.70" cy="375.20" r="1.45" fill="#0a468c"/>
<circle cx="301.70" cy="383.30" r="1.45" fill="#22b03a"/>
<circle cx="301.70" cy="390.00" r="1.45" fill="#4b0f6e"/>
<circle cx="307.90" cy="371.30" r="1.45" fill="#22b03a"/>
<circle cx="307.90" cy="376.20" r="1.45" fill="#22b03a"/>
<circle cx="307.90" cy="378.50" r="1.45" fill="#22b03a"/>
<circle cx="307.90" cy="394.00" r="1.45" fill="#c8002a"/>
<circle cx="322.60" cy="367.50" r="1.45" fill="#0a468c"/>
<circle cx="322.60" cy="370.40" r="1.45" fill="#f5a20a"/>
<circle cx="322.60" cy="374.60" r="1.45" fill="#4b0f6e"/>
<circle cx="322.60" cy="377.10" r="1.45" fill="#c8002a"/>
<circle cx="322.60" cy="379.60" r="1.45" fill="#4b0f6e"/>
<circle cx="322.60" cy="381.90" r="1.45" fill="#f5a20a"/>
<circle cx="322.60" cy="396.30" r="1.45" fill="#22b03a"/>
<circle cx="333.50" cy="371.30" r="1.45" fill="#4b0f6e"/>
<circle cx="333.50" cy="374.80" r="1.45" fill="#c8002a"/>
<circle cx="333.50" cy="378.00" r="1.45" fill="#4b0f6e"/>
<circle cx="333.50" cy="381.00" r="1.45" fill="#22b03a"/>
<circle cx="333.50" cy="382.30" r="1.45" fill="#22b03a"/>
<circle cx="333.50" cy="384.80" r="1.45" fill="#4b0f6e"/>
<circle cx="333.50" cy="396.30" r="1.45" fill="#4b0f6e"/>
<circle cx="345.60" cy="374.60" r="1.45" fill="#0a468c"/>
<circle cx="345.60" cy="378.10" r="1.45" fill="#4b0f6e"/>
<circle cx="345.60" cy="388.70" r="1.45" fill="#c8002a"/>
<circle cx="345.60" cy="390.60" r="1.45" fill="#c8002a"/>
<circle cx="345.60" cy="393.50" r="1.45" fill="#4b0f6e"/>
<circle cx="345.60" cy="401.90" r="1.45" fill="#22b03a"/>
<circle cx="362.30" cy="394.80" r="1.45" fill="#22b03a"/>
<circle cx="362.30" cy="397.10" r="1.45" fill="#c8002a"/>
<circle cx="362.30" cy="401.90" r="1.45" fill="#0a468c"/>
<circle cx="362.30" cy="403.80" r="1.45" fill="#f5a20a"/>
<circle cx="362.30" cy="405.80" r="1.45" fill="#0a468c"/>
<circle cx="381.50" cy="377.30" r="1.45" fill="#4b0f6e"/>
<circle cx="381.50" cy="396.20" r="1.45" fill="#c8002a"/>
<circle cx="381.50" cy="399.20" r="1.45" fill="#22b03a"/>
<circle cx="381.50" cy="401.90" r="1.45" fill="#4b0f6e"/>
<circle cx="381.50" cy="403.80" r="1.45" fill="#4b0f6e"/>
<circle cx="381.50" cy="410.20" r="1.45" fill="#c8002a"/>
<circle cx="381.50" cy="414.40" r="1.45" fill="#0a468c"/>
<circle cx="381.50" cy="421.70" r="1.45" fill="#0a468c"/>
<circle cx="381.50" cy="423.00" r="1.45" fill="#0a468c"/>
<circle cx="381.50" cy="425.00" r="1.45" fill="#0a468c"/>
<circle cx="381.50" cy="444.80" r="1.45" fill="#c8002a"/>
<circle cx="381.50" cy="464.00" r="1.45" fill="#c8002a"/>
<circle cx="391.50" cy="377.30" r="1.45" fill="#4b0f6e"/>
<circle cx="391.50" cy="397.70" r="1.45" fill="#4b0f6e"/>
<circle cx="391.50" cy="403.80" r="1.45" fill="#4b0f6e"/>
<circle cx="391.50" cy="408.70" r="1.45" fill="#c8002a"/>
<circle cx="391.50" cy="411.50" r="1.45" fill="#c8002a"/>
<circle cx="391.50" cy="414.60" r="1.45" fill="#f5a20a"/>
<circle cx="391.50" cy="418.30" r="1.45" fill="#4b0f6e"/>
<circle cx="391.50" cy="425.20" r="1.45" fill="#c8002a"/>
<circle cx="391.50" cy="429.40" r="1.45" fill="#c8002a"/>
<circle cx="391.50" cy="430.80" r="1.45" fill="#c8002a"/>
<circle cx="391.50" cy="436.70" r="1.45" fill="#4b0f6e"/>
<circle cx="391.50" cy="441.90" r="1.45" fill="#c8002a"/>
<circle cx="400.80" cy="409.80" r="1.45" fill="#c8002a"/>
<circle cx="400.80" cy="414.40" r="1.45" fill="#4b0f6e"/>
<circle cx="400.80" cy="417.90" r="1.45" fill="#4b0f6e"/>
<circle cx="400.80" cy="420.20" r="1.45" fill="#c8002a"/>
<circle cx="400.80" cy="424.20" r="1.45" fill="#4b0f6e"/>
<circle cx="400.80" cy="432.70" r="1.45" fill="#0a468c"/>
<circle cx="400.80" cy="451.90" r="1.45" fill="#c8002a"/>
<circle cx="245.50" cy="536.20" r="1.45" fill="#4b0f6e"/>
<circle cx="245.50" cy="542.70" r="1.45" fill="#0a468c"/>
<circle cx="268.50" cy="514.80" r="1.45" fill="#22b03a"/>
<circle cx="268.50" cy="523.00" r="1.45" fill="#4b0f6e"/>
<circle cx="268.50" cy="535.80" r="1.45" fill="#0a468c"/>
<circle cx="268.50" cy="544.80" r="1.45" fill="#f5a20a"/>
<circle cx="277.50" cy="525.60" r="1.45" fill="#0a468c"/>
<circle cx="277.50" cy="533.70" r="1.45" fill="#0a468c"/>
<circle cx="277.50" cy="534.60" r="1.45" fill="#0a468c"/>
<circle cx="277.50" cy="537.50" r="1.45" fill="#4b0f6e"/>
<circle cx="285.40" cy="516.90" r="1.45" fill="#22b03a"/>
<circle cx="285.40" cy="533.00" r="1.45" fill="#22b03a"/>
<circle cx="285.40" cy="537.50" r="1.45" fill="#0a468c"/>
<circle cx="301.70" cy="530.40" r="1.45" fill="#22b03a"/>
<circle cx="301.70" cy="534.20" r="1.45" fill="#0a468c"/>
<circle cx="301.70" cy="539.80" r="1.45" fill="#4b0f6e"/>
<circle cx="301.70" cy="541.30" r="1.45" fill="#4b0f6e"/>
<circle cx="307.90" cy="516.30" r="1.45" fill="#22b03a"/>
<circle cx="307.90" cy="520.20" r="1.45" fill="#22b03a"/>
<circle cx="307.90" cy="527.90" r="1.45" fill="#22b03a"/>
<circle cx="307.90" cy="539.80" r="1.45" fill="#c8002a"/>
<circle cx="322.60" cy="517.70" r="1.45" fill="#4b0f6e"/>
<circle cx="322.60" cy="521.20" r="1.45" fill="#c8002a"/>
<circle cx="322.60" cy="522.70" r="1.45" fill="#c8002a"/>
<circle cx="322.60" cy="527.90" r="1.45" fill="#22b03a"/>
<circle cx="322.60" cy="532.70" r="1.45" fill="#c8002a"/>
<circle cx="322.60" cy="534.00" r="1.45" fill="#4b0f6e"/>
<circle cx="322.60" cy="538.50" r="1.45" fill="#4b0f6e"/>
<circle cx="322.60" cy="543.60" r="1.45" fill="#22b03a"/>
<circle cx="333.50" cy="528.30" r="1.45" fill="#4b0f6e"/>
<circle cx="333.50" cy="530.40" r="1.45" fill="#4b0f6e"/>
<circle cx="333.50" cy="534.60" r="1.45" fill="#4b0f6e"/>
<circle cx="333.50" cy="539.40" r="1.45" fill="#22b03a"/>
<circle cx="333.50" cy="551.00" r="1.45" fill="#4b0f6e"/>
<circle cx="345.60" cy="521.50" r="1.45" fill="#c8002a"/>
<circle cx="345.60" cy="526.00" r="1.45" fill="#c8002a"/>
<circle cx="345.60" cy="528.80" r="1.45" fill="#c8002a"/>
<circle cx="345.60" cy="530.80" r="1.45" fill="#c8002a"/>
<circle cx="345.60" cy="533.70" r="1.45" fill="#c8002a"/>
<circle cx="345.60" cy="540.40" r="1.45" fill="#4b0f6e"/>
<circle cx="345.60" cy="541.30" r="1.45" fill="#22b03a"/>
<circle cx="362.30" cy="514.40" r="1.45" fill="#0a468c"/>
<circle cx="362.30" cy="522.50" r="1.45" fill="#0a468c"/>
<circle cx="362.30" cy="524.40" r="1.45" fill="#0a468c"/>
<circle cx="362.30" cy="525.60" r="1.45" fill="#22b03a"/>
<circle cx="362.30" cy="530.80" r="1.45" fill="#22b03a"/>
<circle cx="362.30" cy="537.10" r="1.45" fill="#c8002a"/>
<circle cx="362.30" cy="539.40" r="1.45" fill="#22b03a"/>
<circle cx="381.50" cy="502.30" r="1.45" fill="#22b03a"/>
<circle cx="381.50" cy="504.80" r="1.45" fill="#c8002a"/>
<circle cx="381.50" cy="507.70" r="1.45" fill="#0a468c"/>
<circle cx="381.50" cy="514.40" r="1.45" fill="#4b0f6e"/>
<circle cx="381.50" cy="516.90" r="1.45" fill="#c8002a"/>
<circle cx="381.50" cy="524.00" r="1.45" fill="#c8002a"/>
<circle cx="381.50" cy="526.90" r="1.45" fill="#0a468c"/>
<circle cx="381.50" cy="528.80" r="1.45" fill="#0a468c"/>
<circle cx="381.50" cy="530.80" r="1.45" fill="#0a468c"/>
<circle cx="381.50" cy="532.30" r="1.45" fill="#c8002a"/>
<circle cx="381.50" cy="534.20" r="1.45" fill="#c8002a"/>
<circle cx="381.50" cy="535.60" r="1.45" fill="#c8002a"/>
<circle cx="381.50" cy="539.40" r="1.45" fill="#4b0f6e"/>
<circle cx="381.50" cy="542.70" r="1.45" fill="#4b0f6e"/>
<circle cx="391.50" cy="522.10" r="1.45" fill="#c8002a"/>
<circle cx="391.50" cy="524.40" r="1.45" fill="#4b0f6e"/>
<circle cx="391.50" cy="526.90" r="1.45" fill="#4b0f6e"/>
<circle cx="391.50" cy="529.20" r="1.45" fill="#0a468c"/>
<circle cx="391.50" cy="531.70" r="1.45" fill="#22b03a"/>
<circle cx="391.50" cy="534.20" r="1.45" fill="#c8002a"/>
<circle cx="391.50" cy="537.50" r="1.45" fill="#4b0f6e"/>
<circle cx="391.50" cy="539.40" r="1.45" fill="#22b03a"/>
<circle cx="391.50" cy="541.00" r="1.45" fill="#4b0f6e"/>
<circle cx="391.50" cy="549.60" r="1.45" fill="#0a468c"/>
<circle cx="400.80" cy="523.50" r="1.45" fill="#c8002a"/>
<circle cx="400.80" cy="530.80" r="1.45" fill="#4b0f6e"/>
<circle cx="400.80" cy="536.90" r="1.45" fill="#0a468c"/>
<circle cx="400.80" cy="539.80" r="1.45" fill="#f5a20a"/>
<circle cx="400.80" cy="541.90" r="1.45" fill="#22b03a"/>
<circle cx="400.80" cy="543.30" r="1.45" fill="#f5a20a"/>
<line x1="237.60" y1="636.00" x2="237.60" y2="638.60" stroke="#333" stroke-width="0.9" />
<text transform="translate(240.10,642.3) rotate(-90)" font-size="6.7" text-anchor="end" fill="#222">0.01</text>
<line x1="252.08" y1="636.00" x2="252.08" y2="638.60" stroke="#333" stroke-width="0.9" />
<text transform="translate(254.58,642.3) rotate(-90)" font-size="6.7" text-anchor="end" fill="#222">0.02</text>
<line x1="266.56" y1="636.00" x2="266.56" y2="638.60" stroke="#333" stroke-width="0.9" />
<text transform="translate(269.06,642.3) rotate(-90)" font-size="6.7" text-anchor="end" fill="#222">0.04</text>
<line x1="285.70" y1="636.00" x2="285.70" y2="638.60" stroke="#333" stroke-width="0.9" />
<text transform="translate(288.20,642.3) rotate(-90)" font-size="6.7" text-anchor="end" fill="#222">0.1</text>
<line x1="300.18" y1="636.00" x2="300.18" y2="638.60" stroke="#333" stroke-width="0.9" />
<text transform="translate(302.68,642.3) rotate(-90)" font-size="6.7" text-anchor="end" fill="#222">0.2</text>
<line x1="308.65" y1="636.00" x2="308.65" y2="638.60" stroke="#333" stroke-width="0.9" />
<text transform="translate(311.15,642.3) rotate(-90)" font-size="6.7" text-anchor="end" fill="#222">0.3</text>
<line x1="319.32" y1="636.00" x2="319.32" y2="638.60" stroke="#333" stroke-width="0.9" />
<text transform="translate(321.82,642.3) rotate(-90)" font-size="6.7" text-anchor="end" fill="#222">0.5</text>
<line x1="333.80" y1="636.00" x2="333.80" y2="638.60" stroke="#333" stroke-width="0.9" />
<text transform="translate(336.30,642.3) rotate(-90)" font-size="6.7" text-anchor="end" fill="#222">1</text>
<line x1="348.28" y1="636.00" x2="348.28" y2="638.60" stroke="#333" stroke-width="0.9" />
<text transform="translate(350.78,642.3) rotate(-90)" font-size="6.7" text-anchor="end" fill="#222">2</text>
<line x1="356.75" y1="636.00" x2="356.75" y2="638.60" stroke="#333" stroke-width="0.9" />
<text transform="translate(359.25,642.3) rotate(-90)" font-size="6.7" text-anchor="end" fill="#222">3</text>
<line x1="362.76" y1="636.00" x2="362.76" y2="638.60" stroke="#333" stroke-width="0.9" />
<text transform="translate(365.26,642.3) rotate(-90)" font-size="6.7" text-anchor="end" fill="#222">4</text>
<line x1="367.42" y1="636.00" x2="367.42" y2="638.60" stroke="#333" stroke-width="0.9" />
<text transform="translate(369.92,642.3) rotate(-90)" font-size="6.7" text-anchor="end" fill="#222">5</text>
<line x1="374.45" y1="636.00" x2="374.45" y2="638.60" stroke="#333" stroke-width="0.9" />
<text transform="translate(376.95,642.3) rotate(-90)" font-size="6.7" text-anchor="end" fill="#222">7</text>
<line x1="381.90" y1="636.00" x2="381.90" y2="638.60" stroke="#333" stroke-width="0.9" />
<text transform="translate(384.40,642.3) rotate(-90)" font-size="6.7" text-anchor="end" fill="#222">10</text>
<line x1="396.38" y1="636.00" x2="396.38" y2="638.60" stroke="#333" stroke-width="0.9" />
<text transform="translate(398.88,642.3) rotate(-90)" font-size="6.7" text-anchor="end" fill="#222">20</text>
<line x1="404.85" y1="636.00" x2="404.85" y2="638.60" stroke="#333" stroke-width="0.9" />
<text transform="translate(407.35,642.3) rotate(-90)" font-size="6.7" text-anchor="end" fill="#222">30</text>
<line x1="235.40" y1="636.00" x2="235.40" y2="637.80" stroke="#333" stroke-width="0.8" />
<line x1="260.55" y1="636.00" x2="260.55" y2="637.80" stroke="#333" stroke-width="0.8" />
<line x1="271.22" y1="636.00" x2="271.22" y2="637.80" stroke="#333" stroke-width="0.8" />
<line x1="275.03" y1="636.00" x2="275.03" y2="637.80" stroke="#333" stroke-width="0.8" />
<line x1="278.25" y1="636.00" x2="278.25" y2="637.80" stroke="#333" stroke-width="0.8" />
<line x1="281.04" y1="636.00" x2="281.04" y2="637.80" stroke="#333" stroke-width="0.8" />
<line x1="283.50" y1="636.00" x2="283.50" y2="637.80" stroke="#333" stroke-width="0.8" />
<line x1="314.66" y1="636.00" x2="314.66" y2="637.80" stroke="#333" stroke-width="0.8" />
<line x1="323.13" y1="636.00" x2="323.13" y2="637.80" stroke="#333" stroke-width="0.8" />
<line x1="326.35" y1="636.00" x2="326.35" y2="637.80" stroke="#333" stroke-width="0.8" />
<line x1="329.14" y1="636.00" x2="329.14" y2="637.80" stroke="#333" stroke-width="0.8" />
<line x1="331.60" y1="636.00" x2="331.60" y2="637.80" stroke="#333" stroke-width="0.8" />
<line x1="371.23" y1="636.00" x2="371.23" y2="637.80" stroke="#333" stroke-width="0.8" />
<line x1="377.24" y1="636.00" x2="377.24" y2="637.80" stroke="#333" stroke-width="0.8" />
<line x1="379.70" y1="636.00" x2="379.70" y2="637.80" stroke="#333" stroke-width="0.8" />
<line x1="410.86" y1="636.00" x2="410.86" y2="637.80" stroke="#333" stroke-width="0.8" />
<text x="445.80" y="316.60" font-size="8.6" text-anchor="start" fill="#222" font-weight="normal" >BOR</text>
<circle cx="448.40" cy="323.10" r="1.5" fill="#c8002a"/>
<text x="453.20" y="326.10" font-size="8.6" text-anchor="start" fill="#222" font-weight="normal" >CR</text>
<circle cx="448.40" cy="331.65" r="1.5" fill="#0a468c"/>
<text x="453.20" y="334.65" font-size="8.6" text-anchor="start" fill="#222" font-weight="normal" >PR</text>
<circle cx="448.40" cy="340.20" r="1.5" fill="#22b03a"/>
<text x="453.20" y="343.20" font-size="8.6" text-anchor="start" fill="#222" font-weight="normal" >SD</text>
<circle cx="448.40" cy="348.75" r="1.5" fill="#4b0f6e"/>
<text x="453.20" y="351.75" font-size="8.6" text-anchor="start" fill="#222" font-weight="normal" >PD</text>
<circle cx="448.40" cy="357.30" r="1.5" fill="#f5a20a"/>
<text x="453.20" y="360.30" font-size="8.6" text-anchor="start" fill="#222" font-weight="normal" >ND</text>
<rect x="0.6" y="0.6" width="518.8" height="676.8" fill="none" stroke="#000" stroke-width="1.3"/>
</svg></div></body></html>
